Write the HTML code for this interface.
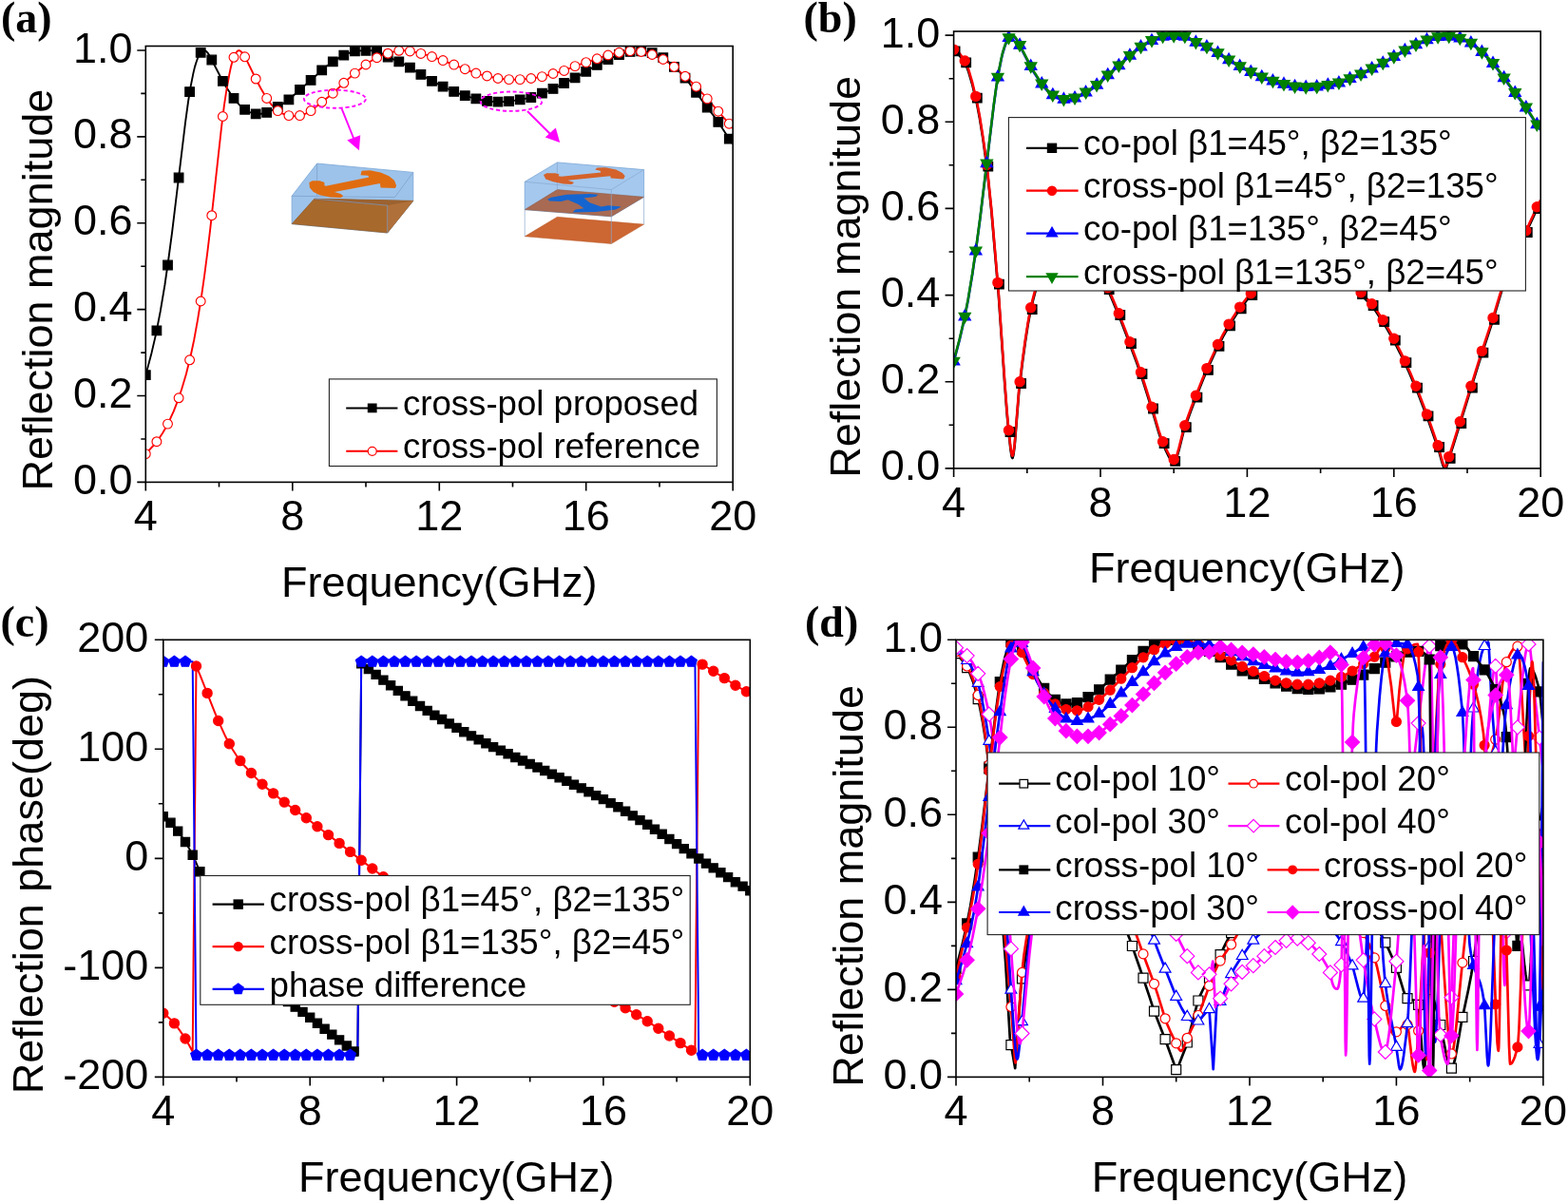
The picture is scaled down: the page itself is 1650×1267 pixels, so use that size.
<!DOCTYPE html><html><head><meta charset="utf-8"><style>html,body{margin:0;padding:0;background:#fff}svg{display:block}</style></head><body><svg width="1650" height="1267" viewBox="0 0 1650 1267">
<rect width="100%" height="100%" fill="#fff"/>
<defs>
<clipPath id="ca"><rect x="153.3" y="48.5" width="617.9" height="458.9"/></clipPath>
<clipPath id="cb"><rect x="1003.6" y="33.0" width="617.6" height="459.9"/></clipPath>
<clipPath id="cc"><rect x="171.8" y="673.3" width="617.5" height="460.1"/></clipPath>
<clipPath id="cd"><rect x="1006.0" y="673.3" width="617.9" height="460.1"/></clipPath>
</defs>
<g clip-path="url(#ca)">
<path d="M153.3 394.7 159.5 371.4 164.1 351.6 168.7 327.9 173.4 300.0 177.2 273.5 181.1 244.3 195.0 129.1 198.1 106.5 200.4 92.1 203.5 76.6 205.0 70.4 206.6 65.2 208.1 61.0 209.7 57.7 210.5 56.4 212.0 54.4 213.5 53.2 215.1 53.0 215.9 53.2 217.4 54.3 219.0 56.2 221.3 60.1 232.1 81.0 237.5 90.7 243.7 100.3 246.8 104.4 249.8 108.2 252.9 111.4 255.3 113.5 257.6 115.3 260.7 117.1 263.0 118.2 266.1 119.2 269.2 119.8 272.2 120.0 276.9 119.5 279.2 118.9 282.3 117.8 288.5 114.8 297.7 109.2 301.6 106.6 305.5 103.5 316.3 93.7 327.1 84.4 338.7 73.9 343.3 70.0 347.9 66.4 354.9 61.9 362.6 57.8 368.8 55.2 371.9 54.2 374.2 53.8 378.1 53.4 391.2 53.1 394.3 53.4 397.4 54.2 400.5 55.6 409.0 60.4 419.0 64.5 423.6 66.7 429.8 70.2 446.8 80.8 455.3 85.7 466.9 91.5 479.2 97.0 485.4 99.4 490.8 101.2 497.8 103.1 507.8 105.6 511.7 106.3 515.5 106.7 526.4 107.1 531.8 107.0 536.4 106.6 552.6 103.9 558.8 102.5 565.7 100.1 578.1 95.1 584.3 92.3 607.5 80.6 626.8 69.3 633.7 65.6 645.3 60.1 653.8 56.7 660.8 54.8 666.9 53.9 673.9 53.9 681.6 54.7 686.2 55.7 690.1 56.9 694.0 58.6 697.8 60.7 701.7 63.5 706.3 67.4 713.3 73.9 717.9 78.6 721.8 83.0 725.6 87.9 741.1 108.9 752.7 124.1 757.3 130.7 766.6 145.0 771.2 151.6" fill="none" stroke="#000" stroke-width="1.9" stroke-linejoin="round"/>
<path d="M153.3 477.6 161.8 468.5 164.9 464.7 168.0 460.4 171.1 455.7 174.2 450.4 179.6 439.7 182.7 432.8 185.7 425.1 191.1 409.7 195.8 394.1 200.4 375.5 204.3 357.2 208.1 336.1 212.0 311.9 215.1 290.1 218.2 266.2 221.3 240.4 232.9 135.1 235.9 110.8 238.3 95.2 241.4 77.9 242.9 70.8 244.4 65.0 246.0 60.3 247.5 56.8 249.1 54.5 250.6 53.3 251.4 53.2 252.2 53.3 253.7 54.3 255.3 56.1 256.8 58.5 260.7 65.6 269.9 84.5 274.6 93.3 277.7 98.6 280.7 103.4 283.8 107.8 286.1 110.6 289.2 113.9 291.6 116.0 293.9 117.7 297.0 119.4 300.1 120.7 303.1 121.5 307.0 122.0 310.1 122.2 314.7 121.8 319.4 120.6 324.0 118.5 327.9 116.1 331.7 113.1 339.4 106.7 350.3 98.2 364.9 84.4 374.2 76.4 382.7 69.7 390.4 64.3 395.8 61.1 402.0 58.3 411.3 55.2 417.5 53.7 422.9 53.1 425.9 53.2 429.8 53.7 438.3 55.3 449.9 58.2 457.6 60.6 465.3 63.3 497.8 76.0 501.6 77.3 506.3 78.6 520.2 81.8 525.6 82.8 532.5 83.4 541.8 83.7 549.5 83.5 558.0 82.6 566.5 81.4 573.5 79.8 592.0 74.9 609.0 68.2 620.6 64.5 636.8 58.9 646.8 56.2 655.3 54.5 661.5 53.7 666.9 53.5 673.1 54.1 677.7 55.0 683.1 56.5 689.3 58.7 694.7 61.0 698.6 63.0 703.2 65.8 707.1 68.5 711.7 72.1 725.6 84.5 734.9 93.6 741.8 101.2 771.2 134.8" fill="none" stroke="#f00" stroke-width="1.9" stroke-linejoin="round"/>
<path d="M148.5 389.9h9.6v9.6h-9.6zM160.1 343.1h9.6v9.6h-9.6zM171.7 274.2h9.6v9.6h-9.6zM183.3 182.2h9.6v9.6h-9.6zM194.8 91.8h9.6v9.6h-9.6zM206.4 50.5h9.6v9.6h-9.6zM218.0 58.2h9.6v9.6h-9.6zM229.6 80.5h9.6v9.6h-9.6zM241.2 98.6h9.6v9.6h-9.6zM252.8 110.5h9.6v9.6h-9.6zM264.4 115.0h9.6v9.6h-9.6zM275.9 113.6h9.6v9.6h-9.6zM287.5 107.7h9.6v9.6h-9.6zM299.1 100.0h9.6v9.6h-9.6zM310.7 89.6h9.6v9.6h-9.6zM322.3 79.6h9.6v9.6h-9.6zM333.9 69.1h9.6v9.6h-9.6zM345.5 60.0h9.6v9.6h-9.6zM357.0 53.4h9.6v9.6h-9.6zM368.6 49.1h9.6v9.6h-9.6zM380.2 48.5h9.6v9.6h-9.6zM391.8 49.1h9.6v9.6h-9.6zM403.4 55.2h9.6v9.6h-9.6zM415.0 60.0h9.6v9.6h-9.6zM426.6 66.4h9.6v9.6h-9.6zM438.1 73.6h9.6v9.6h-9.6zM449.7 80.5h9.6v9.6h-9.6zM461.3 86.4h9.6v9.6h-9.6zM472.9 91.6h9.6v9.6h-9.6zM484.5 95.9h9.6v9.6h-9.6zM496.1 99.1h9.6v9.6h-9.6zM507.7 101.6h9.6v9.6h-9.6zM519.2 102.3h9.6v9.6h-9.6zM530.8 101.9h9.6v9.6h-9.6zM542.4 100.0h9.6v9.6h-9.6zM554.0 97.7h9.6v9.6h-9.6zM565.6 93.4h9.6v9.6h-9.6zM577.2 88.6h9.6v9.6h-9.6zM588.8 82.7h9.6v9.6h-9.6zM600.3 77.0h9.6v9.6h-9.6zM611.9 70.5h9.6v9.6h-9.6zM623.5 63.6h9.6v9.6h-9.6zM635.1 57.7h9.6v9.6h-9.6zM646.7 52.7h9.6v9.6h-9.6zM658.3 49.6h9.6v9.6h-9.6zM669.9 49.1h9.6v9.6h-9.6zM681.4 50.9h9.6v9.6h-9.6zM693.0 55.9h9.6v9.6h-9.6zM704.6 65.5h9.6v9.6h-9.6zM716.2 77.3h9.6v9.6h-9.6zM727.8 92.5h9.6v9.6h-9.6zM739.4 108.2h9.6v9.6h-9.6zM751.0 123.6h9.6v9.6h-9.6zM762.5 141.4h9.6v9.6h-9.6z" fill="#000" stroke="#000" stroke-width="1.2"/>
<path d="M148.4 477.6a4.90 4.90 0 1 0 9.8 0a4.90 4.90 0 1 0 -9.8 0zM160.0 464.7a4.90 4.90 0 1 0 9.8 0a4.90 4.90 0 1 0 -9.8 0zM171.6 446.1a4.90 4.90 0 1 0 9.8 0a4.90 4.90 0 1 0 -9.8 0zM183.2 418.8a4.90 4.90 0 1 0 9.8 0a4.90 4.90 0 1 0 -9.8 0zM194.7 378.8a4.90 4.90 0 1 0 9.8 0a4.90 4.90 0 1 0 -9.8 0zM206.3 317.0a4.90 4.90 0 1 0 9.8 0a4.90 4.90 0 1 0 -9.8 0zM217.9 226.7a4.90 4.90 0 1 0 9.8 0a4.90 4.90 0 1 0 -9.8 0zM229.5 122.5a4.90 4.90 0 1 0 9.8 0a4.90 4.90 0 1 0 -9.8 0zM241.1 60.3a4.90 4.90 0 1 0 9.8 0a4.90 4.90 0 1 0 -9.8 0zM252.7 59.8a4.90 4.90 0 1 0 9.8 0a4.90 4.90 0 1 0 -9.8 0zM264.3 83.0a4.90 4.90 0 1 0 9.8 0a4.90 4.90 0 1 0 -9.8 0zM275.8 103.4a4.90 4.90 0 1 0 9.8 0a4.90 4.90 0 1 0 -9.8 0zM287.4 116.6a4.90 4.90 0 1 0 9.8 0a4.90 4.90 0 1 0 -9.8 0zM299.0 121.6a4.90 4.90 0 1 0 9.8 0a4.90 4.90 0 1 0 -9.8 0zM310.6 121.6a4.90 4.90 0 1 0 9.8 0a4.90 4.90 0 1 0 -9.8 0zM322.2 116.6a4.90 4.90 0 1 0 9.8 0a4.90 4.90 0 1 0 -9.8 0zM333.8 107.3a4.90 4.90 0 1 0 9.8 0a4.90 4.90 0 1 0 -9.8 0zM345.4 98.2a4.90 4.90 0 1 0 9.8 0a4.90 4.90 0 1 0 -9.8 0zM356.9 87.3a4.90 4.90 0 1 0 9.8 0a4.90 4.90 0 1 0 -9.8 0zM368.5 77.1a4.90 4.90 0 1 0 9.8 0a4.90 4.90 0 1 0 -9.8 0zM380.1 68.0a4.90 4.90 0 1 0 9.8 0a4.90 4.90 0 1 0 -9.8 0zM391.7 60.7a4.90 4.90 0 1 0 9.8 0a4.90 4.90 0 1 0 -9.8 0zM403.3 56.2a4.90 4.90 0 1 0 9.8 0a4.90 4.90 0 1 0 -9.8 0zM414.9 53.3a4.90 4.90 0 1 0 9.8 0a4.90 4.90 0 1 0 -9.8 0zM426.5 53.9a4.90 4.90 0 1 0 9.8 0a4.90 4.90 0 1 0 -9.8 0zM438.0 56.4a4.90 4.90 0 1 0 9.8 0a4.90 4.90 0 1 0 -9.8 0zM449.6 59.6a4.90 4.90 0 1 0 9.8 0a4.90 4.90 0 1 0 -9.8 0zM461.2 63.6a4.90 4.90 0 1 0 9.8 0a4.90 4.90 0 1 0 -9.8 0zM472.8 68.1a4.90 4.90 0 1 0 9.8 0a4.90 4.90 0 1 0 -9.8 0zM484.4 72.7a4.90 4.90 0 1 0 9.8 0a4.90 4.90 0 1 0 -9.8 0zM496.0 77.1a4.90 4.90 0 1 0 9.8 0a4.90 4.90 0 1 0 -9.8 0zM507.6 80.0a4.90 4.90 0 1 0 9.8 0a4.90 4.90 0 1 0 -9.8 0zM519.1 82.5a4.90 4.90 0 1 0 9.8 0a4.90 4.90 0 1 0 -9.8 0zM530.7 83.6a4.90 4.90 0 1 0 9.8 0a4.90 4.90 0 1 0 -9.8 0zM542.3 83.6a4.90 4.90 0 1 0 9.8 0a4.90 4.90 0 1 0 -9.8 0zM553.9 82.5a4.90 4.90 0 1 0 9.8 0a4.90 4.90 0 1 0 -9.8 0zM565.5 80.6a4.90 4.90 0 1 0 9.8 0a4.90 4.90 0 1 0 -9.8 0zM577.1 77.5a4.90 4.90 0 1 0 9.8 0a4.90 4.90 0 1 0 -9.8 0zM588.7 74.4a4.90 4.90 0 1 0 9.8 0a4.90 4.90 0 1 0 -9.8 0zM600.2 69.6a4.90 4.90 0 1 0 9.8 0a4.90 4.90 0 1 0 -9.8 0zM611.8 65.7a4.90 4.90 0 1 0 9.8 0a4.90 4.90 0 1 0 -9.8 0zM623.4 61.8a4.90 4.90 0 1 0 9.8 0a4.90 4.90 0 1 0 -9.8 0zM635.0 58.0a4.90 4.90 0 1 0 9.8 0a4.90 4.90 0 1 0 -9.8 0zM646.6 55.3a4.90 4.90 0 1 0 9.8 0a4.90 4.90 0 1 0 -9.8 0zM658.2 53.6a4.90 4.90 0 1 0 9.8 0a4.90 4.90 0 1 0 -9.8 0zM669.8 54.4a4.90 4.90 0 1 0 9.8 0a4.90 4.90 0 1 0 -9.8 0zM681.3 57.5a4.90 4.90 0 1 0 9.8 0a4.90 4.90 0 1 0 -9.8 0zM692.9 62.5a4.90 4.90 0 1 0 9.8 0a4.90 4.90 0 1 0 -9.8 0zM704.5 70.3a4.90 4.90 0 1 0 9.8 0a4.90 4.90 0 1 0 -9.8 0zM716.1 80.3a4.90 4.90 0 1 0 9.8 0a4.90 4.90 0 1 0 -9.8 0zM727.7 91.2a4.90 4.90 0 1 0 9.8 0a4.90 4.90 0 1 0 -9.8 0zM739.3 103.9a4.90 4.90 0 1 0 9.8 0a4.90 4.90 0 1 0 -9.8 0zM750.9 117.2a4.90 4.90 0 1 0 9.8 0a4.90 4.90 0 1 0 -9.8 0zM762.4 130.2a4.90 4.90 0 1 0 9.8 0a4.90 4.90 0 1 0 -9.8 0z" fill="#fff" stroke="#f00" stroke-width="1.15"/>
</g>
<ellipse cx="352.4" cy="104.2" rx="32.5" ry="9.5" fill="none" stroke="#f0f" stroke-width="1.9" stroke-dasharray="4 2.8"/>
<ellipse cx="538" cy="106.7" rx="32.4" ry="10.2" fill="none" stroke="#f0f" stroke-width="1.9" stroke-dasharray="4 2.8"/>
<path d="M359.3 113.7L373.5 149" stroke="#f0f" stroke-width="1.9"/>
<polygon points="377.9,158.3 365.3,147.5 379.2,142.2" fill="#f0f"/>
<path d="M555 117L580 142" stroke="#f0f" stroke-width="1.9"/>
<polygon points="589.2,149.9 573.7,144.4 584.8,134.4" fill="#f0f"/>
<polygon points="307.1,206.3 333.6,172.0 434.8,181.4 434.8,211.3 407.7,245.0 307.1,235.6" fill="#9dc3ea" stroke="#7aa6d6" stroke-width="0.8" fill-opacity="1"/>
<polygon points="307.1,235.6 330.9,209.1 434.8,211.3 407.7,245.0" fill="#a8692c" stroke="#8a5522" stroke-width="0.6" fill-opacity="1"/>
<polygon points="330.9,209.1 434.8,211.3 407.7,216.2 330.9,210.7" fill="#9c6230" stroke="none" stroke-width="0.6" fill-opacity="1"/>
<polygon points="407.7,216.2 434.8,211.3 407.7,245.0" fill="#b0703a" stroke="none" stroke-width="0.6" fill-opacity="1"/>
<line x1="333.6" y1="172.0" x2="333.6" y2="206.3" stroke="#7a9cc8" stroke-width="0.7"/>
<line x1="307.1" y1="206.3" x2="415.4" y2="207.6" stroke="#7a9cc8" stroke-width="0.7"/>
<line x1="415.4" y1="207.6" x2="434.8" y2="181.4" stroke="#7a9cc8" stroke-width="0.7"/>
<line x1="407.7" y1="216.2" x2="407.7" y2="245.0" stroke="#7a9cc8" stroke-width="0.7"/>
<line x1="330.9" y1="209.1" x2="407.7" y2="216.2" stroke="#7a9cc8" stroke-width="0.7"/>
<polygon points="325.4,191.9 328.7,190.3 336.4,190.3 341.4,191.9 341.4,195.2 343.0,195.8 388.3,186.4 387.2,184.8 379.5,184.2 380.6,179.8 389.4,179.2 400.5,181.4 409.3,185.3 414.9,189.7 417.1,195.2 416.0,198.0 400.5,197.5 399.9,193.0 351.9,201.9 358.5,204.1 361.3,206.3 358.5,208.0 347.5,207.4 336.4,205.2 329.8,201.9 325.9,197.5" fill="#e06c10" stroke="none" stroke-width="0.6" fill-opacity="1"/>
<polygon points="552.2,191.3 586.4,170.9 677.6,178.6 677.6,207.3 643.3,227.8 552.2,220.6" fill="#a4c8ee" stroke="#7aa6d6" stroke-width="0.8" fill-opacity="1"/>
<polygon points="552.2,220.6 586.4,199.6 677.6,207.3 643.3,227.8" fill="#a86a52" stroke="#8a5a48" stroke-width="0.5" fill-opacity="1"/>
<polygon points="576.1,209.8 580.0,207.7 596.4,204.7 620.6,204.1 629.7,204.7 626.7,207.1 614.5,208.6 620.6,213.2 632.7,217.4 640.0,216.2 653.9,217.4 647.9,220.5 626.7,222.9 602.4,223.5 605.5,220.5 614.5,219.2 608.5,215.0 597.6,210.2 590.3,212.0 578.2,211.4" fill="#1565d0" stroke="none" stroke-width="0.6" fill-opacity="1"/>
<polygon points="552.2,248.8 586.4,228.3 677.6,236.1 643.3,256.5" fill="#cc6632" stroke="#b85a2a" stroke-width="0.5" fill-opacity="1"/>
<line x1="552.2" y1="191.3" x2="643.3" y2="199.6" stroke="#8aa8d0" stroke-width="0.7"/>
<line x1="643.3" y1="199.6" x2="677.6" y2="178.6" stroke="#8aa8d0" stroke-width="0.7"/>
<line x1="643.3" y1="199.6" x2="643.3" y2="227.8" stroke="#8aa8d0" stroke-width="0.7"/>
<line x1="586.4" y1="170.9" x2="586.4" y2="199.6" stroke="#8aa8d0" stroke-width="0.7"/>
<line x1="552.2" y1="220.6" x2="552.2" y2="248.8" stroke="#8aa8d0" stroke-width="0.7"/>
<line x1="643.3" y1="227.8" x2="643.3" y2="256.5" stroke="#8aa8d0" stroke-width="0.7"/>
<line x1="677.6" y1="207.3" x2="677.6" y2="236.1" stroke="#8aa8d0" stroke-width="0.7"/>
<polygon points="572.0,184.1 575.4,182.2 584.2,182.2 588.6,183.6 587.5,185.2 590.8,185.8 632.3,181.4 631.7,179.7 626.2,178.6 628.4,176.4 637.2,176.2 648.3,178.6 654.9,181.9 657.7,185.2 656.0,188.6 642.8,187.5 642.2,185.2 597.5,189.7 604.1,191.9 601.9,194.1 593.0,193.5 582.0,191.3 574.3,188.6" fill="#d4622a" stroke="none" stroke-width="0.6" fill-opacity="1"/>
<rect x="346.4" y="398.9" width="408" height="91.6" fill="#fff" stroke="#222" stroke-width="1.1"/>
<path d="M364.2 429.4H418.4" stroke="#000" stroke-width="2"/>
<rect x="387.4" y="425.1" width="8.6" height="8.6" fill="#000" stroke="#000" stroke-width="1.2"/>
<path d="M364.2 474.8H418.4" stroke="#f00" stroke-width="2"/>
<circle cx="391.7" cy="474.8" r="4.5" fill="#fff" stroke="#f00" stroke-width="1.2"/>
<g font-family="'Liberation Sans', Arial, sans-serif" font-size="36.6"><text x="424" y="437.3">cross-pol proposed</text><text x="424" y="481.8">cross-pol reference</text></g>
<rect x="153.3" y="48.5" width="617.9" height="458.9" fill="none" stroke="#000" stroke-width="1.6"/>
<path d="M153.3 507.4H144.3M153.3 416.5H144.3M153.3 325.6H144.3M153.3 234.8H144.3M153.3 143.9H144.3M153.3 53.0H144.3M153.3 462.0H148.3M153.3 371.1H148.3M153.3 280.2H148.3M153.3 189.3H148.3M153.3 98.4H148.3M153.3 507.4V516.4M307.8 507.4V516.4M462.3 507.4V516.4M616.7 507.4V516.4M771.2 507.4V516.4M230.5 507.4V512.4M385.0 507.4V512.4M539.5 507.4V512.4M694.0 507.4V512.4" stroke="#000" stroke-width="1.6" fill="none"/>
<g font-family="'Liberation Sans', Arial, sans-serif" font-size="45" fill="#000">
<text x="139.5" y="519.9" text-anchor="end">0.0</text>
<text x="139.5" y="429.0" text-anchor="end">0.2</text>
<text x="139.5" y="338.1" text-anchor="end">0.4</text>
<text x="139.5" y="247.3" text-anchor="end">0.6</text>
<text x="139.5" y="156.4" text-anchor="end">0.8</text>
<text x="139.5" y="65.5" text-anchor="end">1.0</text>
<text x="153.3" y="558.1" text-anchor="middle">4</text>
<text x="307.8" y="558.1" text-anchor="middle">8</text>
<text x="462.3" y="558.1" text-anchor="middle">12</text>
<text x="616.7" y="558.1" text-anchor="middle">16</text>
<text x="771.2" y="558.1" text-anchor="middle">20</text>
<text x="462.2" y="627.7" text-anchor="middle">Frequency(GHz)</text>
<text x="54.8" y="516.5" transform="rotate(-90 54.8 516.5)">Reflection magnitude</text>
</g>
<text x="1.0" y="33.5" font-family="'Liberation Serif', 'Times New Roman', serif" font-weight="bold" font-size="46">(a)</text>
<g clip-path="url(#cb)">
<path d="M1003.6 54.4 1005.1 54.7 1007.1 55.8 1009.0 57.7 1011.3 60.5 1016.0 67.6 1017.5 70.9 1019.4 76.1 1023.3 89.5 1027.9 108.8 1031.0 125.1 1034.5 147.1 1037.2 166.7 1039.5 185.3 1043.4 223.3 1050.7 309.2 1057.3 404.6 1059.6 435.1 1061.1 451.6 1063.4 472.7 1064.6 480.2 1065.0 481.5 1065.4 482.0 1065.7 481.5 1066.5 478.4 1067.7 469.1 1072.3 411.3 1075.8 382.5 1078.9 359.8 1081.6 342.3 1083.9 329.7 1086.6 317.7 1090.1 304.5 1093.9 292.4 1098.6 281.0 1102.8 272.2 1104.7 268.9 1106.7 266.3 1112.1 261.0 1114.4 259.1 1116.3 258.0 1118.2 257.4 1119.8 257.3 1124.8 257.8 1131.4 259.7 1133.7 260.9 1136.8 263.5 1146.0 273.3 1151.8 280.4 1154.5 284.3 1156.8 288.0 1162.6 298.8 1169.6 313.5 1178.1 333.9 1185.0 351.8 1196.2 381.9 1200.5 394.0 1204.3 405.8 1212.8 432.9 1219.4 455.4 1222.1 463.4 1227.1 474.7 1229.8 480.2 1232.1 483.8 1233.3 485.0 1234.0 485.5 1235.2 485.8 1235.6 485.7 1236.4 485.1 1237.1 483.9 1238.3 481.3 1240.6 473.6 1245.2 455.1 1247.6 447.8 1253.0 432.9 1259.9 414.6 1266.1 399.1 1271.1 387.2 1279.2 369.5 1286.9 354.4 1294.6 340.8 1302.8 328.1 1310.9 317.2 1314.3 313.1 1317.4 309.9 1322.0 305.6 1330.2 298.9 1335.2 294.9 1339.0 292.1 1343.7 289.3 1347.9 287.0 1355.6 283.3 1359.5 281.8 1362.2 281.0 1368.8 280.0 1372.6 279.6 1376.5 279.6 1386.1 280.3 1389.6 281.0 1405.8 286.8 1409.3 288.4 1412.4 290.3 1417.4 294.2 1422.4 298.8 1432.1 310.1 1442.5 320.6 1445.2 323.9 1448.3 328.3 1459.5 345.9 1466.8 358.6 1473.7 372.3 1483.0 392.3 1492.7 415.2 1503.1 442.5 1513.5 472.2 1517.4 486.3 1518.5 489.9 1519.3 491.7 1520.1 492.9 1521.2 492.9 1521.6 492.6 1522.4 490.7 1524.3 484.1 1528.9 469.9 1556.0 382.6 1571.0 336.8 1579.9 307.2 1584.1 294.5 1589.5 280.0 1595.3 266.3 1605.8 244.9 1616.2 222.5 1621.2 212.6" fill="none" stroke="#000" stroke-width="2.6" stroke-linejoin="round"/>
<path d="M1003.6 52.1 1005.1 52.4 1007.1 53.6 1009.0 55.4 1011.3 58.3 1016.0 65.3 1017.5 68.6 1019.4 73.8 1023.3 87.2 1027.9 106.6 1031.0 122.8 1034.5 144.9 1037.2 164.4 1039.5 183.0 1043.4 221.0 1050.7 306.9 1057.3 402.3 1059.6 432.8 1061.1 449.3 1063.4 470.4 1064.6 478.0 1065.0 479.2 1065.4 479.7 1065.7 479.3 1066.5 476.2 1067.7 466.8 1072.3 409.0 1075.8 380.2 1078.9 357.5 1081.6 340.1 1083.9 327.5 1086.6 315.4 1090.1 302.2 1093.9 290.1 1098.6 278.7 1102.8 269.9 1104.7 266.7 1106.7 264.0 1112.1 258.7 1114.4 256.9 1116.3 255.7 1118.2 255.1 1119.8 255.0 1124.8 255.6 1131.4 257.4 1133.7 258.7 1136.8 261.3 1146.0 271.0 1151.8 278.1 1154.5 282.0 1156.8 285.7 1162.6 296.5 1169.6 311.2 1178.1 331.6 1185.0 349.5 1196.2 379.6 1200.5 391.7 1204.3 403.5 1212.8 430.7 1219.4 453.1 1222.1 461.1 1226.7 471.6 1229.4 477.2 1231.7 481.0 1233.7 483.0 1234.8 483.5 1235.6 483.4 1236.0 483.2 1237.1 481.6 1238.3 479.0 1240.6 471.3 1245.2 452.9 1247.9 444.5 1253.7 428.5 1260.7 410.4 1266.5 395.9 1271.9 383.2 1279.6 366.5 1287.3 351.4 1295.4 337.3 1303.1 325.3 1310.9 315.0 1314.3 310.8 1317.4 307.6 1322.0 303.3 1330.2 296.6 1335.2 292.6 1339.0 289.9 1343.7 287.0 1347.9 284.7 1355.6 281.1 1359.5 279.5 1362.2 278.7 1368.8 277.7 1372.6 277.3 1376.5 277.3 1386.1 278.0 1389.6 278.7 1405.8 284.6 1409.3 286.2 1412.4 288.0 1417.4 291.9 1422.4 296.5 1432.1 307.8 1442.5 318.3 1445.2 321.6 1448.3 326.0 1459.5 343.6 1467.2 357.0 1474.5 371.6 1483.8 391.8 1492.3 412.0 1500.8 433.9 1505.8 447.7 1513.5 469.9 1517.4 484.0 1518.5 487.6 1519.7 490.1 1520.5 491.0 1520.8 491.1 1521.2 490.9 1521.6 490.3 1522.4 488.5 1524.3 481.8 1528.9 467.6 1556.0 380.3 1560.6 365.8 1570.6 335.7 1579.9 304.9 1584.5 291.1 1589.9 276.8 1595.3 264.0 1605.8 242.7 1616.2 220.2 1621.2 210.3" fill="none" stroke="#f00" stroke-width="2.6" stroke-linejoin="round"/>
<path d="M1003.6 380.8 1009.8 357.4 1014.4 337.5 1018.7 315.9 1023.3 288.2 1027.1 262.0 1031.4 229.9 1045.7 111.4 1048.4 91.7 1050.7 77.2 1053.8 61.7 1055.3 55.5 1057.3 49.1 1058.8 45.1 1060.3 42.0 1062.3 39.4 1063.8 38.2 1065.4 38.0 1066.5 38.4 1068.1 39.8 1069.6 41.8 1072.3 46.6 1083.1 67.5 1087.7 75.8 1093.9 85.4 1097.0 89.6 1099.7 92.9 1102.4 95.8 1105.1 98.3 1107.8 100.5 1110.5 102.1 1113.2 103.4 1116.3 104.4 1119.0 105.0 1122.1 105.2 1124.4 105.1 1127.1 104.7 1129.8 104.0 1132.5 103.1 1138.3 100.2 1148.0 94.4 1152.2 91.5 1155.7 88.7 1166.5 78.8 1177.7 69.1 1189.3 58.6 1193.9 54.7 1198.1 51.5 1205.1 46.9 1212.8 42.8 1219.0 40.2 1221.7 39.4 1224.4 38.8 1228.3 38.4 1241.0 38.1 1244.5 38.4 1247.2 39.0 1250.6 40.6 1259.5 45.6 1269.6 49.7 1273.8 51.7 1280.0 55.3 1297.0 65.9 1305.1 70.6 1317.0 76.7 1329.0 82.0 1335.2 84.4 1341.0 86.3 1357.6 90.7 1361.8 91.5 1365.7 91.9 1376.5 92.3 1381.9 92.2 1386.5 91.8 1402.7 89.1 1408.9 87.7 1415.5 85.4 1428.2 80.3 1434.0 77.7 1457.5 65.7 1476.5 54.6 1483.4 50.8 1495.0 45.3 1503.9 41.7 1510.8 39.8 1517.0 38.9 1524.3 38.9 1531.6 39.7 1536.3 40.7 1540.5 42.1 1544.4 43.8 1548.2 46.0 1552.1 48.9 1556.4 52.5 1563.3 59.0 1568.3 64.1 1571.8 68.1 1575.7 73.0 1590.7 93.6 1603.1 109.8 1607.3 116.0 1616.6 130.3 1621.2 136.9" fill="none" stroke="#00f" stroke-width="2.6" stroke-linejoin="round"/>
<path d="M1003.6 379.9 1009.8 356.5 1014.4 336.6 1018.7 315.0 1023.3 287.3 1027.1 261.1 1031.4 229.0 1045.7 110.5 1048.4 90.8 1050.7 76.3 1053.8 60.8 1055.3 54.6 1057.3 48.2 1058.8 44.2 1060.3 41.1 1062.3 38.5 1063.8 37.3 1065.4 37.1 1066.5 37.5 1068.1 38.8 1069.6 40.9 1072.3 45.6 1083.1 66.6 1087.7 74.9 1093.9 84.5 1097.0 88.7 1099.7 92.0 1102.4 94.9 1105.1 97.4 1107.8 99.5 1110.5 101.2 1113.2 102.5 1116.3 103.5 1119.0 104.1 1122.1 104.3 1124.4 104.2 1127.1 103.8 1129.8 103.1 1132.5 102.1 1138.3 99.3 1148.0 93.5 1152.2 90.6 1155.7 87.8 1166.5 77.9 1177.7 68.2 1189.3 57.7 1193.9 53.8 1198.1 50.6 1205.1 46.0 1212.8 41.9 1219.0 39.3 1221.7 38.4 1224.4 37.9 1228.3 37.5 1241.0 37.2 1244.5 37.5 1247.2 38.1 1250.6 39.7 1259.5 44.7 1269.6 48.8 1273.8 50.8 1280.0 54.4 1297.0 65.0 1305.1 69.7 1317.0 75.8 1329.0 81.1 1335.2 83.5 1341.0 85.4 1357.6 89.7 1361.8 90.5 1365.7 91.0 1376.5 91.4 1381.9 91.3 1386.5 90.9 1402.7 88.2 1408.9 86.8 1415.5 84.5 1428.2 79.4 1434.0 76.7 1457.5 64.8 1476.5 53.7 1483.4 49.9 1495.0 44.4 1503.9 40.8 1510.8 38.9 1517.0 38.0 1524.3 38.0 1531.6 38.8 1536.3 39.8 1540.5 41.2 1544.4 42.9 1548.2 45.1 1552.1 47.9 1556.4 51.6 1563.3 58.1 1568.3 63.2 1571.8 67.2 1575.7 72.1 1590.7 92.6 1603.1 108.9 1607.3 115.1 1616.6 129.4 1621.2 136.0" fill="none" stroke="#008000" stroke-width="2.6" stroke-linejoin="round"/>
<path d="M1000.3 49.1h9.6v9.6h-9.6zM1011.9 61.0h9.6v9.6h-9.6zM1023.5 98.4h9.6v9.6h-9.6zM1035.0 170.4h9.6v9.6h-9.6zM1046.6 294.4h9.6v9.6h-9.6zM1058.2 449.8h9.6v9.6h-9.6zM1069.8 398.7h9.6v9.6h-9.6zM1081.4 320.8h9.6v9.6h-9.6zM1092.9 281.1h9.6v9.6h-9.6zM1104.5 259.7h9.6v9.6h-9.6zM1116.1 252.0h9.6v9.6h-9.6zM1127.7 254.3h9.6v9.6h-9.6zM1139.3 264.3h9.6v9.6h-9.6zM1150.8 278.4h9.6v9.6h-9.6zM1162.4 299.8h9.6v9.6h-9.6zM1174.0 326.7h9.6v9.6h-9.6zM1185.6 356.8h9.6v9.6h-9.6zM1197.2 388.7h9.6v9.6h-9.6zM1208.7 425.2h9.6v9.6h-9.6zM1220.3 461.8h9.6v9.6h-9.6zM1231.9 480.5h9.6v9.6h-9.6zM1243.5 444.8h9.6v9.6h-9.6zM1255.1 413.3h9.6v9.6h-9.6zM1266.6 384.6h9.6v9.6h-9.6zM1278.2 359.5h9.6v9.6h-9.6zM1289.8 338.1h9.6v9.6h-9.6zM1301.4 320.1h9.6v9.6h-9.6zM1313.0 305.8h9.6v9.6h-9.6zM1324.5 295.5h9.6v9.6h-9.6zM1336.1 286.6h9.6v9.6h-9.6zM1347.7 280.2h9.6v9.6h-9.6zM1359.3 275.7h9.6v9.6h-9.6zM1370.9 274.3h9.6v9.6h-9.6zM1382.4 274.9h9.6v9.6h-9.6zM1394.0 278.5h9.6v9.6h-9.6zM1405.6 283.0h9.6v9.6h-9.6zM1417.2 291.6h9.6v9.6h-9.6zM1428.8 304.8h9.6v9.6h-9.6zM1440.3 316.7h9.6v9.6h-9.6zM1451.9 333.8h9.6v9.6h-9.6zM1463.5 353.3h9.6v9.6h-9.6zM1475.1 376.9h9.6v9.6h-9.6zM1486.7 403.3h9.6v9.6h-9.6zM1498.2 433.0h9.6v9.6h-9.6zM1509.8 465.7h9.6v9.6h-9.6zM1521.4 477.6h9.6v9.6h-9.6zM1533.0 440.7h9.6v9.6h-9.6zM1544.6 403.3h9.6v9.6h-9.6zM1556.1 366.4h9.6v9.6h-9.6zM1567.7 331.5h9.6v9.6h-9.6zM1579.3 293.6h9.6v9.6h-9.6zM1590.9 263.6h9.6v9.6h-9.6zM1602.5 239.7h9.6v9.6h-9.6zM1614.0 214.8h9.6v9.6h-9.6z" fill="#000" stroke="#000" stroke-width="1.2"/>
<path d="M998.5 52.1a5.10 5.10 0 1 0 10.2 0a5.10 5.10 0 1 0 -10.2 0zM1010.1 64.0a5.10 5.10 0 1 0 10.2 0a5.10 5.10 0 1 0 -10.2 0zM1021.7 101.4a5.10 5.10 0 1 0 10.2 0a5.10 5.10 0 1 0 -10.2 0zM1033.2 173.4a5.10 5.10 0 1 0 10.2 0a5.10 5.10 0 1 0 -10.2 0zM1044.8 297.4a5.10 5.10 0 1 0 10.2 0a5.10 5.10 0 1 0 -10.2 0zM1056.4 452.8a5.10 5.10 0 1 0 10.2 0a5.10 5.10 0 1 0 -10.2 0zM1068.0 401.7a5.10 5.10 0 1 0 10.2 0a5.10 5.10 0 1 0 -10.2 0zM1079.6 323.8a5.10 5.10 0 1 0 10.2 0a5.10 5.10 0 1 0 -10.2 0zM1091.1 284.1a5.10 5.10 0 1 0 10.2 0a5.10 5.10 0 1 0 -10.2 0zM1102.7 262.7a5.10 5.10 0 1 0 10.2 0a5.10 5.10 0 1 0 -10.2 0zM1114.3 255.0a5.10 5.10 0 1 0 10.2 0a5.10 5.10 0 1 0 -10.2 0zM1125.9 257.3a5.10 5.10 0 1 0 10.2 0a5.10 5.10 0 1 0 -10.2 0zM1137.5 267.3a5.10 5.10 0 1 0 10.2 0a5.10 5.10 0 1 0 -10.2 0zM1149.0 281.4a5.10 5.10 0 1 0 10.2 0a5.10 5.10 0 1 0 -10.2 0zM1160.6 302.8a5.10 5.10 0 1 0 10.2 0a5.10 5.10 0 1 0 -10.2 0zM1172.2 329.7a5.10 5.10 0 1 0 10.2 0a5.10 5.10 0 1 0 -10.2 0zM1183.8 359.8a5.10 5.10 0 1 0 10.2 0a5.10 5.10 0 1 0 -10.2 0zM1195.4 391.7a5.10 5.10 0 1 0 10.2 0a5.10 5.10 0 1 0 -10.2 0zM1206.9 428.2a5.10 5.10 0 1 0 10.2 0a5.10 5.10 0 1 0 -10.2 0zM1218.5 464.8a5.10 5.10 0 1 0 10.2 0a5.10 5.10 0 1 0 -10.2 0zM1230.1 483.5a5.10 5.10 0 1 0 10.2 0a5.10 5.10 0 1 0 -10.2 0zM1241.7 447.8a5.10 5.10 0 1 0 10.2 0a5.10 5.10 0 1 0 -10.2 0zM1253.3 416.3a5.10 5.10 0 1 0 10.2 0a5.10 5.10 0 1 0 -10.2 0zM1264.8 387.6a5.10 5.10 0 1 0 10.2 0a5.10 5.10 0 1 0 -10.2 0zM1276.4 362.5a5.10 5.10 0 1 0 10.2 0a5.10 5.10 0 1 0 -10.2 0zM1288.0 341.1a5.10 5.10 0 1 0 10.2 0a5.10 5.10 0 1 0 -10.2 0zM1299.6 323.1a5.10 5.10 0 1 0 10.2 0a5.10 5.10 0 1 0 -10.2 0zM1311.2 308.8a5.10 5.10 0 1 0 10.2 0a5.10 5.10 0 1 0 -10.2 0zM1322.7 298.5a5.10 5.10 0 1 0 10.2 0a5.10 5.10 0 1 0 -10.2 0zM1334.3 289.6a5.10 5.10 0 1 0 10.2 0a5.10 5.10 0 1 0 -10.2 0zM1345.9 283.2a5.10 5.10 0 1 0 10.2 0a5.10 5.10 0 1 0 -10.2 0zM1357.5 278.7a5.10 5.10 0 1 0 10.2 0a5.10 5.10 0 1 0 -10.2 0zM1369.1 277.3a5.10 5.10 0 1 0 10.2 0a5.10 5.10 0 1 0 -10.2 0zM1380.6 277.9a5.10 5.10 0 1 0 10.2 0a5.10 5.10 0 1 0 -10.2 0zM1392.2 281.5a5.10 5.10 0 1 0 10.2 0a5.10 5.10 0 1 0 -10.2 0zM1403.8 286.0a5.10 5.10 0 1 0 10.2 0a5.10 5.10 0 1 0 -10.2 0zM1415.4 294.6a5.10 5.10 0 1 0 10.2 0a5.10 5.10 0 1 0 -10.2 0zM1427.0 307.8a5.10 5.10 0 1 0 10.2 0a5.10 5.10 0 1 0 -10.2 0zM1438.5 319.7a5.10 5.10 0 1 0 10.2 0a5.10 5.10 0 1 0 -10.2 0zM1450.1 336.8a5.10 5.10 0 1 0 10.2 0a5.10 5.10 0 1 0 -10.2 0zM1461.7 356.3a5.10 5.10 0 1 0 10.2 0a5.10 5.10 0 1 0 -10.2 0zM1473.3 379.9a5.10 5.10 0 1 0 10.2 0a5.10 5.10 0 1 0 -10.2 0zM1484.9 406.3a5.10 5.10 0 1 0 10.2 0a5.10 5.10 0 1 0 -10.2 0zM1496.4 436.0a5.10 5.10 0 1 0 10.2 0a5.10 5.10 0 1 0 -10.2 0zM1508.0 468.7a5.10 5.10 0 1 0 10.2 0a5.10 5.10 0 1 0 -10.2 0zM1519.6 480.6a5.10 5.10 0 1 0 10.2 0a5.10 5.10 0 1 0 -10.2 0zM1531.2 443.7a5.10 5.10 0 1 0 10.2 0a5.10 5.10 0 1 0 -10.2 0zM1542.8 406.3a5.10 5.10 0 1 0 10.2 0a5.10 5.10 0 1 0 -10.2 0zM1554.3 369.4a5.10 5.10 0 1 0 10.2 0a5.10 5.10 0 1 0 -10.2 0zM1565.9 334.5a5.10 5.10 0 1 0 10.2 0a5.10 5.10 0 1 0 -10.2 0zM1577.5 296.6a5.10 5.10 0 1 0 10.2 0a5.10 5.10 0 1 0 -10.2 0zM1589.1 266.6a5.10 5.10 0 1 0 10.2 0a5.10 5.10 0 1 0 -10.2 0zM1600.7 242.7a5.10 5.10 0 1 0 10.2 0a5.10 5.10 0 1 0 -10.2 0zM1612.2 217.8a5.10 5.10 0 1 0 10.2 0a5.10 5.10 0 1 0 -10.2 0z" fill="#f00" stroke="#f00" stroke-width="1.2"/>
<path d="M1003.6 373.2l6.2 10.7h-12.3zM1015.2 326.3l6.2 10.7h-12.3zM1026.8 257.2l6.2 10.7h-12.3zM1038.3 164.9l6.2 10.7h-12.3zM1049.9 74.2l6.2 10.7h-12.3zM1061.5 32.7l6.2 10.7h-12.3zM1073.1 40.5l6.2 10.7h-12.3zM1084.7 62.8l6.2 10.7h-12.3zM1096.2 81.1l6.2 10.7h-12.3zM1107.8 92.9l6.2 10.7h-12.3zM1119.4 97.5l6.2 10.7h-12.3zM1131.0 96.1l6.2 10.7h-12.3zM1142.6 90.2l6.2 10.7h-12.3zM1154.1 82.4l6.2 10.7h-12.3zM1165.7 71.9l6.2 10.7h-12.3zM1177.3 61.9l6.2 10.7h-12.3zM1188.9 51.4l6.2 10.7h-12.3zM1200.5 42.3l6.2 10.7h-12.3zM1212.0 35.7l6.2 10.7h-12.3zM1223.6 31.4l6.2 10.7h-12.3zM1235.2 30.8l6.2 10.7h-12.3zM1246.8 31.4l6.2 10.7h-12.3zM1258.4 37.5l6.2 10.7h-12.3zM1269.9 42.3l6.2 10.7h-12.3zM1281.5 48.7l6.2 10.7h-12.3zM1293.1 56.0l6.2 10.7h-12.3zM1304.7 62.8l6.2 10.7h-12.3zM1316.3 68.8l6.2 10.7h-12.3zM1327.8 74.0l6.2 10.7h-12.3zM1339.4 78.3l6.2 10.7h-12.3zM1351.0 81.5l6.2 10.7h-12.3zM1362.6 84.0l6.2 10.7h-12.3zM1374.2 84.7l6.2 10.7h-12.3zM1385.7 84.3l6.2 10.7h-12.3zM1397.3 82.4l6.2 10.7h-12.3zM1408.9 80.2l6.2 10.7h-12.3zM1420.5 75.8l6.2 10.7h-12.3zM1432.1 71.0l6.2 10.7h-12.3zM1443.6 65.1l6.2 10.7h-12.3zM1455.2 59.4l6.2 10.7h-12.3zM1466.8 52.8l6.2 10.7h-12.3zM1478.4 46.0l6.2 10.7h-12.3zM1490.0 40.0l6.2 10.7h-12.3zM1501.5 35.0l6.2 10.7h-12.3zM1513.1 31.8l6.2 10.7h-12.3zM1524.7 31.4l6.2 10.7h-12.3zM1536.3 33.2l6.2 10.7h-12.3zM1547.9 38.2l6.2 10.7h-12.3zM1559.4 47.8l6.2 10.7h-12.3zM1571.0 59.6l6.2 10.7h-12.3zM1582.6 74.9l6.2 10.7h-12.3zM1594.2 90.6l6.2 10.7h-12.3zM1605.8 106.1l6.2 10.7h-12.3zM1617.3 123.9l6.2 10.7h-12.3z" fill="#00f" stroke="#00f" stroke-width="1.2"/>
<path d="M1003.6 387.0l6.2 -10.7h-12.3zM1015.2 340.0l6.2 -10.7h-12.3zM1026.8 270.9l6.2 -10.7h-12.3zM1038.3 178.7l6.2 -10.7h-12.3zM1049.9 88.0l6.2 -10.7h-12.3zM1061.5 46.5l6.2 -10.7h-12.3zM1073.1 54.3l6.2 -10.7h-12.3zM1084.7 76.6l6.2 -10.7h-12.3zM1096.2 94.8l6.2 -10.7h-12.3zM1107.8 106.7l6.2 -10.7h-12.3zM1119.4 111.2l6.2 -10.7h-12.3zM1131.0 109.9l6.2 -10.7h-12.3zM1142.6 103.9l6.2 -10.7h-12.3zM1154.1 96.2l6.2 -10.7h-12.3zM1165.7 85.7l6.2 -10.7h-12.3zM1177.3 75.7l6.2 -10.7h-12.3zM1188.9 65.2l6.2 -10.7h-12.3zM1200.5 56.1l6.2 -10.7h-12.3zM1212.0 49.4l6.2 -10.7h-12.3zM1223.6 45.1l6.2 -10.7h-12.3zM1235.2 44.5l6.2 -10.7h-12.3zM1246.8 45.1l6.2 -10.7h-12.3zM1258.4 51.2l6.2 -10.7h-12.3zM1269.9 56.1l6.2 -10.7h-12.3zM1281.5 62.5l6.2 -10.7h-12.3zM1293.1 69.8l6.2 -10.7h-12.3zM1304.7 76.6l6.2 -10.7h-12.3zM1316.3 82.5l6.2 -10.7h-12.3zM1327.8 87.8l6.2 -10.7h-12.3zM1339.4 92.1l6.2 -10.7h-12.3zM1351.0 95.3l6.2 -10.7h-12.3zM1362.6 97.8l6.2 -10.7h-12.3zM1374.2 98.5l6.2 -10.7h-12.3zM1385.7 98.1l6.2 -10.7h-12.3zM1397.3 96.2l6.2 -10.7h-12.3zM1408.9 93.9l6.2 -10.7h-12.3zM1420.5 89.6l6.2 -10.7h-12.3zM1432.1 84.8l6.2 -10.7h-12.3zM1443.6 78.9l6.2 -10.7h-12.3zM1455.2 73.1l6.2 -10.7h-12.3zM1466.8 66.6l6.2 -10.7h-12.3zM1478.4 59.7l6.2 -10.7h-12.3zM1490.0 53.8l6.2 -10.7h-12.3zM1501.5 48.8l6.2 -10.7h-12.3zM1513.1 45.6l6.2 -10.7h-12.3zM1524.7 45.1l6.2 -10.7h-12.3zM1536.3 47.0l6.2 -10.7h-12.3zM1547.9 52.0l6.2 -10.7h-12.3zM1559.4 61.6l6.2 -10.7h-12.3zM1571.0 73.4l6.2 -10.7h-12.3zM1582.6 88.7l6.2 -10.7h-12.3zM1594.2 104.4l6.2 -10.7h-12.3zM1605.8 119.9l6.2 -10.7h-12.3zM1617.3 137.7l6.2 -10.7h-12.3z" fill="#008000" stroke="#008000" stroke-width="1.2"/>
</g>
<rect x="1061.4" y="123.6" width="544" height="182.4" fill="#fff" stroke="#222" stroke-width="1.1"/>
<path d="M1080 155.8H1134.6" stroke="#000" stroke-width="2.2"/>
<rect x="1102.4" y="151.2" width="9.2" height="9.2" fill="#000" stroke="#000" stroke-width="1.2"/>
<path d="M1080 200.7H1134.6" stroke="#f00" stroke-width="2.2"/>
<circle cx="1107.0" cy="200.7" r="4.6" fill="#f00" stroke="#f00" stroke-width="1.2"/>
<path d="M1080 245.6H1134.6" stroke="#00f" stroke-width="2.2"/>
<polygon points="1107.0,239.1 1112.6,248.9 1101.4,248.9" fill="#00f" stroke="#00f" stroke-width="1.2"/>
<path d="M1080 291.2H1134.6" stroke="#008000" stroke-width="2.2"/>
<polygon points="1107.0,297.7 1112.6,287.9 1101.4,287.9" fill="#008000" stroke="#008000" stroke-width="1.2"/>
<g font-family="'Liberation Sans', Arial, sans-serif" font-size="36.7">
<text x="1140" y="163.4">co-pol β1=45°, β2=135°</text>
<text x="1140" y="208.3">cross-pol β1=45°, β2=135°</text>
<text x="1140" y="253.2">co-pol β1=135°, β2=45°</text>
<text x="1140" y="298.8">cross-pol β1=135°, β2=45°</text>
</g>
<rect x="1003.6" y="33.0" width="617.6" height="459.9" fill="none" stroke="#000" stroke-width="1.6"/>
<path d="M1003.6 492.9H994.6M1003.6 401.7H994.6M1003.6 310.6H994.6M1003.6 219.4H994.6M1003.6 128.3H994.6M1003.6 37.1H994.6M1003.6 447.3H998.6M1003.6 356.2H998.6M1003.6 265.0H998.6M1003.6 173.8H998.6M1003.6 82.7H998.6M1003.6 492.9V501.9M1158.0 492.9V501.9M1312.4 492.9V501.9M1466.8 492.9V501.9M1621.2 492.9V501.9M1080.8 492.9V497.9M1235.2 492.9V497.9M1389.6 492.9V497.9M1544.0 492.9V497.9" stroke="#000" stroke-width="1.6" fill="none"/>
<g font-family="'Liberation Sans', Arial, sans-serif" font-size="45" fill="#000">
<text x="989.3" y="505.4" text-anchor="end">0.0</text>
<text x="989.3" y="414.2" text-anchor="end">0.2</text>
<text x="989.3" y="323.1" text-anchor="end">0.4</text>
<text x="989.3" y="231.9" text-anchor="end">0.6</text>
<text x="989.3" y="140.8" text-anchor="end">0.8</text>
<text x="989.3" y="49.6" text-anchor="end">1.0</text>
<text x="1003.6" y="543.6" text-anchor="middle">4</text>
<text x="1158.0" y="543.6" text-anchor="middle">8</text>
<text x="1312.4" y="543.6" text-anchor="middle">12</text>
<text x="1466.8" y="543.6" text-anchor="middle">16</text>
<text x="1621.2" y="543.6" text-anchor="middle">20</text>
<text x="1312.3" y="613.2" text-anchor="middle">Frequency(GHz)</text>
<text x="905.3" y="502.7" transform="rotate(-90 905.3 502.7)">Reflection magnitude</text>
</g>
<text x="845.5" y="33.6" font-family="'Liberation Serif', 'Times New Roman', serif" font-weight="bold" font-size="46">(b)</text>
<g clip-path="url(#cc)">
<path d="M171.8 859.2 175.7 862.2 179.5 865.8 183.4 869.9 187.2 874.6 191.1 880.1 195.0 886.0 198.8 892.4 202.7 899.7 206.5 908.1 214.3 926.8 225.8 956.3 229.7 965.6 233.6 974.2 237.4 982.4 241.3 989.7 245.1 996.3 249.0 1002.3 252.8 1007.7 256.7 1012.3 268.3 1024.6 276.0 1032.3 279.9 1035.7 299.2 1051.2 322.3 1067.7 333.9 1076.8 357.1 1094.4 376.3 1109.4 380.2 698.3 407.2 718.5 426.5 732.4 442.0 743.0 449.7 747.9 457.4 752.6 488.3 770.2 507.6 780.4 526.9 789.7 546.2 798.7 577.0 812.8 604.1 825.7 631.1 839.1 654.2 851.5 661.9 856.0 681.2 867.7 727.5 898.2 739.1 906.1 762.3 920.6 773.9 928.2 785.4 934.9 789.3 937.3" fill="none" stroke="#000" stroke-width="2.0" stroke-linejoin="round"/>
<path d="M171.8 1066.2 175.7 1069.2 179.5 1072.8 183.4 1076.9 187.2 1081.7 191.1 1087.1 195.0 1093.0 198.8 1099.5 202.7 1106.7 206.5 701.0 210.4 710.2 225.8 749.2 229.7 758.5 237.4 775.3 241.3 782.7 245.1 789.3 249.0 795.3 252.8 800.6 256.7 805.3 268.3 817.6 276.0 825.2 279.9 828.6 295.3 841.1 303.0 847.0 322.3 860.7 333.9 869.8 357.1 887.4 376.3 902.4 407.2 925.5 422.7 936.7 434.2 944.9 442.0 950.1 449.7 955.0 461.3 961.9 484.4 975.1 496.0 981.4 507.6 987.4 530.7 998.6 550.0 1007.6 577.0 1019.8 596.3 1029.0 623.3 1042.2 646.5 1054.3 658.1 1060.7 681.2 1074.7 731.4 1107.9 735.3 696.5 743.0 701.5 762.3 713.6 773.9 721.2 785.4 727.8 789.3 730.2" fill="none" stroke="#f00" stroke-width="2.0" stroke-linejoin="round"/>
<path d="M171.8 696.3 202.7 696.3 206.5 1110.4 376.3 1110.4 380.2 696.3 731.4 696.3 735.3 1110.4 789.3 1110.4" fill="none" stroke="#00f" stroke-width="2.0" stroke-linejoin="round"/>
<path d="M167.2 854.6h9.2v9.2h-9.2zM174.9 861.2h9.2v9.2h-9.2zM182.6 870.0h9.2v9.2h-9.2zM190.4 881.4h9.2v9.2h-9.2zM198.1 895.1h9.2v9.2h-9.2zM205.8 912.6h9.2v9.2h-9.2zM213.5 931.9h9.2v9.2h-9.2zM221.2 951.7h9.2v9.2h-9.2zM229.0 969.6h9.2v9.2h-9.2zM236.7 985.1h9.2v9.2h-9.2zM244.4 997.7h9.2v9.2h-9.2zM252.1 1007.7h9.2v9.2h-9.2zM259.8 1016.0h9.2v9.2h-9.2zM267.5 1024.0h9.2v9.2h-9.2zM275.3 1031.1h9.2v9.2h-9.2zM283.0 1037.4h9.2v9.2h-9.2zM290.7 1043.6h9.2v9.2h-9.2zM298.4 1049.4h9.2v9.2h-9.2zM306.1 1055.0h9.2v9.2h-9.2zM313.9 1060.3h9.2v9.2h-9.2zM321.6 1066.1h9.2v9.2h-9.2zM329.3 1072.2h9.2v9.2h-9.2zM337.0 1078.1h9.2v9.2h-9.2zM344.7 1084.0h9.2v9.2h-9.2zM352.5 1089.8h9.2v9.2h-9.2zM360.2 1095.9h9.2v9.2h-9.2zM367.9 1101.9h9.2v9.2h-9.2zM375.6 693.7h9.2v9.2h-9.2zM383.3 699.5h9.2v9.2h-9.2zM391.0 705.3h9.2v9.2h-9.2zM398.8 711.0h9.2v9.2h-9.2zM406.5 716.7h9.2v9.2h-9.2zM414.2 722.3h9.2v9.2h-9.2zM421.9 727.8h9.2v9.2h-9.2zM429.6 733.2h9.2v9.2h-9.2zM437.4 738.4h9.2v9.2h-9.2zM445.1 743.3h9.2v9.2h-9.2zM452.8 748.0h9.2v9.2h-9.2zM460.5 752.4h9.2v9.2h-9.2zM468.2 756.9h9.2v9.2h-9.2zM475.9 761.3h9.2v9.2h-9.2zM483.7 765.6h9.2v9.2h-9.2zM491.4 769.8h9.2v9.2h-9.2zM499.1 773.8h9.2v9.2h-9.2zM506.8 777.7h9.2v9.2h-9.2zM514.5 781.5h9.2v9.2h-9.2zM522.3 785.1h9.2v9.2h-9.2zM530.0 788.7h9.2v9.2h-9.2zM537.7 792.4h9.2v9.2h-9.2zM545.4 795.9h9.2v9.2h-9.2zM553.1 799.4h9.2v9.2h-9.2zM560.9 802.9h9.2v9.2h-9.2zM568.6 806.4h9.2v9.2h-9.2zM576.3 810.0h9.2v9.2h-9.2zM584.0 813.6h9.2v9.2h-9.2zM591.7 817.3h9.2v9.2h-9.2zM599.4 821.1h9.2v9.2h-9.2zM607.2 824.8h9.2v9.2h-9.2zM614.9 828.6h9.2v9.2h-9.2zM622.6 832.5h9.2v9.2h-9.2zM630.3 836.5h9.2v9.2h-9.2zM638.0 840.5h9.2v9.2h-9.2zM645.8 844.7h9.2v9.2h-9.2zM653.5 849.1h9.2v9.2h-9.2zM661.2 853.8h9.2v9.2h-9.2zM668.9 858.5h9.2v9.2h-9.2zM676.6 863.1h9.2v9.2h-9.2zM684.4 868.1h9.2v9.2h-9.2zM692.1 873.2h9.2v9.2h-9.2zM699.8 878.4h9.2v9.2h-9.2zM707.5 883.5h9.2v9.2h-9.2zM715.2 888.5h9.2v9.2h-9.2zM722.9 893.6h9.2v9.2h-9.2zM730.7 898.9h9.2v9.2h-9.2zM738.4 904.0h9.2v9.2h-9.2zM746.1 908.8h9.2v9.2h-9.2zM753.8 913.6h9.2v9.2h-9.2zM761.5 918.5h9.2v9.2h-9.2zM769.3 923.6h9.2v9.2h-9.2zM777.0 928.0h9.2v9.2h-9.2zM784.7 932.7h9.2v9.2h-9.2z" fill="#000" stroke="#000" stroke-width="1.2"/>
<path d="M166.7 1066.2a5.10 5.10 0 1 0 10.2 0a5.10 5.10 0 1 0 -10.2 0zM178.3 1076.9a5.10 5.10 0 1 0 10.2 0a5.10 5.10 0 1 0 -10.2 0zM189.9 1093.0a5.10 5.10 0 1 0 10.2 0a5.10 5.10 0 1 0 -10.2 0zM201.4 701.0a5.10 5.10 0 1 0 10.2 0a5.10 5.10 0 1 0 -10.2 0zM213.0 729.4a5.10 5.10 0 1 0 10.2 0a5.10 5.10 0 1 0 -10.2 0zM224.6 758.5a5.10 5.10 0 1 0 10.2 0a5.10 5.10 0 1 0 -10.2 0zM236.2 782.7a5.10 5.10 0 1 0 10.2 0a5.10 5.10 0 1 0 -10.2 0zM247.7 800.6a5.10 5.10 0 1 0 10.2 0a5.10 5.10 0 1 0 -10.2 0zM259.3 813.5a5.10 5.10 0 1 0 10.2 0a5.10 5.10 0 1 0 -10.2 0zM270.9 825.2a5.10 5.10 0 1 0 10.2 0a5.10 5.10 0 1 0 -10.2 0zM282.5 834.9a5.10 5.10 0 1 0 10.2 0a5.10 5.10 0 1 0 -10.2 0zM294.1 844.1a5.10 5.10 0 1 0 10.2 0a5.10 5.10 0 1 0 -10.2 0zM305.6 852.5a5.10 5.10 0 1 0 10.2 0a5.10 5.10 0 1 0 -10.2 0zM317.2 860.7a5.10 5.10 0 1 0 10.2 0a5.10 5.10 0 1 0 -10.2 0zM328.8 869.8a5.10 5.10 0 1 0 10.2 0a5.10 5.10 0 1 0 -10.2 0zM340.4 878.6a5.10 5.10 0 1 0 10.2 0a5.10 5.10 0 1 0 -10.2 0zM352.0 887.4a5.10 5.10 0 1 0 10.2 0a5.10 5.10 0 1 0 -10.2 0zM363.5 896.4a5.10 5.10 0 1 0 10.2 0a5.10 5.10 0 1 0 -10.2 0zM375.1 905.3a5.10 5.10 0 1 0 10.2 0a5.10 5.10 0 1 0 -10.2 0zM386.7 914.0a5.10 5.10 0 1 0 10.2 0a5.10 5.10 0 1 0 -10.2 0zM398.3 922.7a5.10 5.10 0 1 0 10.2 0a5.10 5.10 0 1 0 -10.2 0zM409.8 931.2a5.10 5.10 0 1 0 10.2 0a5.10 5.10 0 1 0 -10.2 0zM421.4 939.5a5.10 5.10 0 1 0 10.2 0a5.10 5.10 0 1 0 -10.2 0zM433.0 947.5a5.10 5.10 0 1 0 10.2 0a5.10 5.10 0 1 0 -10.2 0zM444.6 955.0a5.10 5.10 0 1 0 10.2 0a5.10 5.10 0 1 0 -10.2 0zM456.2 961.9a5.10 5.10 0 1 0 10.2 0a5.10 5.10 0 1 0 -10.2 0zM467.7 968.5a5.10 5.10 0 1 0 10.2 0a5.10 5.10 0 1 0 -10.2 0zM479.3 975.1a5.10 5.10 0 1 0 10.2 0a5.10 5.10 0 1 0 -10.2 0zM490.9 981.4a5.10 5.10 0 1 0 10.2 0a5.10 5.10 0 1 0 -10.2 0zM502.5 987.4a5.10 5.10 0 1 0 10.2 0a5.10 5.10 0 1 0 -10.2 0zM514.0 993.1a5.10 5.10 0 1 0 10.2 0a5.10 5.10 0 1 0 -10.2 0zM525.6 998.6a5.10 5.10 0 1 0 10.2 0a5.10 5.10 0 1 0 -10.2 0zM537.2 1004.0a5.10 5.10 0 1 0 10.2 0a5.10 5.10 0 1 0 -10.2 0zM548.8 1009.3a5.10 5.10 0 1 0 10.2 0a5.10 5.10 0 1 0 -10.2 0zM560.4 1014.5a5.10 5.10 0 1 0 10.2 0a5.10 5.10 0 1 0 -10.2 0zM571.9 1019.8a5.10 5.10 0 1 0 10.2 0a5.10 5.10 0 1 0 -10.2 0zM583.5 1025.3a5.10 5.10 0 1 0 10.2 0a5.10 5.10 0 1 0 -10.2 0zM595.1 1030.8a5.10 5.10 0 1 0 10.2 0a5.10 5.10 0 1 0 -10.2 0zM606.7 1036.5a5.10 5.10 0 1 0 10.2 0a5.10 5.10 0 1 0 -10.2 0zM618.2 1042.2a5.10 5.10 0 1 0 10.2 0a5.10 5.10 0 1 0 -10.2 0zM629.8 1048.1a5.10 5.10 0 1 0 10.2 0a5.10 5.10 0 1 0 -10.2 0zM641.4 1054.3a5.10 5.10 0 1 0 10.2 0a5.10 5.10 0 1 0 -10.2 0zM653.0 1060.7a5.10 5.10 0 1 0 10.2 0a5.10 5.10 0 1 0 -10.2 0zM664.6 1067.8a5.10 5.10 0 1 0 10.2 0a5.10 5.10 0 1 0 -10.2 0zM676.1 1074.7a5.10 5.10 0 1 0 10.2 0a5.10 5.10 0 1 0 -10.2 0zM687.7 1082.3a5.10 5.10 0 1 0 10.2 0a5.10 5.10 0 1 0 -10.2 0zM699.3 1090.0a5.10 5.10 0 1 0 10.2 0a5.10 5.10 0 1 0 -10.2 0zM710.9 1097.6a5.10 5.10 0 1 0 10.2 0a5.10 5.10 0 1 0 -10.2 0zM722.4 1105.2a5.10 5.10 0 1 0 10.2 0a5.10 5.10 0 1 0 -10.2 0zM734.0 699.1a5.10 5.10 0 1 0 10.2 0a5.10 5.10 0 1 0 -10.2 0zM745.6 706.3a5.10 5.10 0 1 0 10.2 0a5.10 5.10 0 1 0 -10.2 0zM757.2 713.6a5.10 5.10 0 1 0 10.2 0a5.10 5.10 0 1 0 -10.2 0zM768.8 721.2a5.10 5.10 0 1 0 10.2 0a5.10 5.10 0 1 0 -10.2 0zM780.3 727.8a5.10 5.10 0 1 0 10.2 0a5.10 5.10 0 1 0 -10.2 0z" fill="#f00" stroke="#f00" stroke-width="1.2"/>
<path d="M171.8 690.2L177.6 694.4L175.4 701.2L168.2 701.2L166.0 694.4zM183.4 690.2L189.2 694.4L187.0 701.2L179.8 701.2L177.6 694.4zM195.0 690.2L200.7 694.4L198.5 701.2L191.4 701.2L189.2 694.4zM206.5 1104.3L212.3 1108.5L210.1 1115.3L203.0 1115.3L200.7 1108.5zM218.1 1104.3L223.9 1108.5L221.7 1115.3L214.5 1115.3L212.3 1108.5zM229.7 1104.3L235.5 1108.5L233.3 1115.3L226.1 1115.3L223.9 1108.5zM241.3 1104.3L247.1 1108.5L244.8 1115.3L237.7 1115.3L235.5 1108.5zM252.8 1104.3L258.6 1108.5L256.4 1115.3L249.3 1115.3L247.1 1108.5zM264.4 1104.3L270.2 1108.5L268.0 1115.3L260.8 1115.3L258.6 1108.5zM276.0 1104.3L281.8 1108.5L279.6 1115.3L272.4 1115.3L270.2 1108.5zM287.6 1104.3L293.4 1108.5L291.2 1115.3L284.0 1115.3L281.8 1108.5zM299.2 1104.3L305.0 1108.5L302.7 1115.3L295.6 1115.3L293.4 1108.5zM310.7 1104.3L316.5 1108.5L314.3 1115.3L307.2 1115.3L304.9 1108.5zM322.3 1104.3L328.1 1108.5L325.9 1115.3L318.7 1115.3L316.5 1108.5zM333.9 1104.3L339.7 1108.5L337.5 1115.3L330.3 1115.3L328.1 1108.5zM345.5 1104.3L351.3 1108.5L349.1 1115.3L341.9 1115.3L339.7 1108.5zM357.1 1104.3L362.8 1108.5L360.6 1115.3L353.5 1115.3L351.3 1108.5zM368.6 1104.3L374.4 1108.5L372.2 1115.3L365.0 1115.3L362.8 1108.5zM380.2 690.2L386.0 694.4L383.8 701.2L376.6 701.2L374.4 694.4zM391.8 690.2L397.6 694.4L395.4 701.2L388.2 701.2L386.0 694.4zM403.4 690.2L409.2 694.4L406.9 701.2L399.8 701.2L397.6 694.4zM414.9 690.2L420.7 694.4L418.5 701.2L411.4 701.2L409.1 694.4zM426.5 690.2L432.3 694.4L430.1 701.2L422.9 701.2L420.7 694.4zM438.1 690.2L443.9 694.4L441.7 701.2L434.5 701.2L432.3 694.4zM449.7 690.2L455.5 694.4L453.3 701.2L446.1 701.2L443.9 694.4zM461.3 690.2L467.0 694.4L464.8 701.2L457.7 701.2L455.5 694.4zM472.8 690.2L478.6 694.4L476.4 701.2L469.3 701.2L467.0 694.4zM484.4 690.2L490.2 694.4L488.0 701.2L480.8 701.2L478.6 694.4zM496.0 690.2L501.8 694.4L499.6 701.2L492.4 701.2L490.2 694.4zM507.6 690.2L513.4 694.4L511.1 701.2L504.0 701.2L501.8 694.4zM519.1 690.2L524.9 694.4L522.7 701.2L515.6 701.2L513.4 694.4zM530.7 690.2L536.5 694.4L534.3 701.2L527.1 701.2L524.9 694.4zM542.3 690.2L548.1 694.4L545.9 701.2L538.7 701.2L536.5 694.4zM553.9 690.2L559.7 694.4L557.5 701.2L550.3 701.2L548.1 694.4zM565.5 690.2L571.2 694.4L569.0 701.2L561.9 701.2L559.7 694.4zM577.0 690.2L582.8 694.4L580.6 701.2L573.5 701.2L571.2 694.4zM588.6 690.2L594.4 694.4L592.2 701.2L585.0 701.2L582.8 694.4zM600.2 690.2L606.0 694.4L603.8 701.2L596.6 701.2L594.4 694.4zM611.8 690.2L617.6 694.4L615.3 701.2L608.2 701.2L606.0 694.4zM623.3 690.2L629.1 694.4L626.9 701.2L619.8 701.2L617.6 694.4zM634.9 690.2L640.7 694.4L638.5 701.2L631.3 701.2L629.1 694.4zM646.5 690.2L652.3 694.4L650.1 701.2L642.9 701.2L640.7 694.4zM658.1 690.2L663.9 694.4L661.7 701.2L654.5 701.2L652.3 694.4zM669.7 690.2L675.5 694.4L673.2 701.2L666.1 701.2L663.9 694.4zM681.2 690.2L687.0 694.4L684.8 701.2L677.7 701.2L675.4 694.4zM692.8 690.2L698.6 694.4L696.4 701.2L689.2 701.2L687.0 694.4zM704.4 690.2L710.2 694.4L708.0 701.2L700.8 701.2L698.6 694.4zM716.0 690.2L721.8 694.4L719.6 701.2L712.4 701.2L710.2 694.4zM727.5 690.2L733.3 694.4L731.1 701.2L724.0 701.2L721.8 694.4zM739.1 1104.3L744.9 1108.5L742.7 1115.3L735.5 1115.3L733.3 1108.5zM750.7 1104.3L756.5 1108.5L754.3 1115.3L747.1 1115.3L744.9 1108.5zM762.3 1104.3L768.1 1108.5L765.9 1115.3L758.7 1115.3L756.5 1108.5zM773.9 1104.3L779.7 1108.5L777.4 1115.3L770.3 1115.3L768.1 1108.5zM785.4 1104.3L791.2 1108.5L789.0 1115.3L781.9 1115.3L779.6 1108.5z" fill="#00f" stroke="#00f" stroke-width="1.2"/>
</g>
<rect x="210.8" y="921.5" width="515.4" height="135.8" fill="#fff" stroke="#222" stroke-width="1.1"/>
<path d="M223.6 951.6H277.9" stroke="#000" stroke-width="2.2"/>
<rect x="246.1" y="947.0" width="9.2" height="9.2" fill="#000" stroke="#000" stroke-width="1.2"/>
<path d="M223.6 996.1H277.9" stroke="#f00" stroke-width="2.2"/>
<circle cx="250.7" cy="996.1" r="4.6" fill="#f00" stroke="#f00" stroke-width="1.2"/>
<path d="M223.6 1040.9H277.9" stroke="#00f" stroke-width="2.2"/>
<polygon points="250.7,1035.1 256.2,1039.1 254.1,1045.6 247.3,1045.6 245.2,1039.1" fill="#00f" stroke="#00f" stroke-width="1.2"/>
<g font-family="'Liberation Sans', Arial, sans-serif" font-size="36.7">
<text x="283.6" y="959.2">cross-pol β1=45°, β2=135°</text>
<text x="283.6" y="1003.7">cross-pol β1=135°, β2=45°</text>
<text x="283.6" y="1048.5">phase difference</text>
</g>
<rect x="171.8" y="673.3" width="617.5" height="460.1" fill="none" stroke="#000" stroke-width="1.6"/>
<path d="M171.8 1133.4H162.8M171.8 1018.4H162.8M171.8 903.4H162.8M171.8 788.3H162.8M171.8 673.3H162.8M171.8 1075.9H166.8M171.8 960.9H166.8M171.8 845.8H166.8M171.8 730.8H166.8M171.8 1133.4V1142.4M326.2 1133.4V1142.4M480.6 1133.4V1142.4M634.9 1133.4V1142.4M789.3 1133.4V1142.4M249.0 1133.4V1138.4M403.4 1133.4V1138.4M557.7 1133.4V1138.4M712.1 1133.4V1138.4" stroke="#000" stroke-width="1.6" fill="none"/>
<g font-family="'Liberation Sans', Arial, sans-serif" font-size="45" fill="#000">
<text x="156.3" y="1145.9" text-anchor="end">-200</text>
<text x="156.3" y="1030.9" text-anchor="end">-100</text>
<text x="156.3" y="915.9" text-anchor="end">0</text>
<text x="156.3" y="800.8" text-anchor="end">100</text>
<text x="156.3" y="685.8" text-anchor="end">200</text>
<text x="171.8" y="1184.1" text-anchor="middle">4</text>
<text x="326.2" y="1184.1" text-anchor="middle">8</text>
<text x="480.6" y="1184.1" text-anchor="middle">12</text>
<text x="634.9" y="1184.1" text-anchor="middle">16</text>
<text x="789.3" y="1184.1" text-anchor="middle">20</text>
<text x="480.3" y="1253.7" text-anchor="middle">Frequency(GHz)</text>
<text x="44.9" y="1151.3" transform="rotate(-90 44.9 1151.3)">Reflection phase(deg)</text>
</g>
<text x="0.5" y="669.7" font-family="'Liberation Serif', 'Times New Roman', serif" font-weight="bold" font-size="46">(c)</text>
<g clip-path="url(#cd)">
<path d="M1006.0 687.7 1009.1 690.8 1011.8 693.9 1014.1 697.0 1016.4 700.5 1018.4 704.0 1020.3 708.0 1022.2 712.7 1024.2 718.0 1027.6 729.5 1031.1 744.2 1034.2 760.5 1037.3 780.1 1040.4 803.8 1043.1 828.3 1045.8 856.4 1048.9 892.5 1058.1 1012.1 1062.8 1092.9 1068.2 1124.2 1074.4 1036.8 1083.2 982.7 1086.3 966.7 1089.4 953.1 1093.3 938.8 1097.1 926.9 1101.4 916.2 1103.7 911.3 1106.0 907.1 1108.0 904.1 1110.3 901.0 1112.6 898.4 1114.9 896.5 1117.2 895.0 1119.5 893.9 1121.9 893.3 1124.6 893.0 1127.6 893.3 1130.4 894.0 1133.1 895.3 1135.8 897.1 1138.8 899.6 1142.3 902.9 1147.7 908.6 1151.6 913.1 1155.8 918.9 1160.1 925.9 1164.3 933.9 1175.5 956.3 1181.7 970.0 1188.3 986.9 1199.1 1017.8 1209.5 1048.6 1214.5 1064.1 1225.7 1092.7 1238.1 1126.7 1248.5 1100.0 1259.7 1056.6 1262.8 1047.9 1265.9 1041.3 1274.0 1026.1 1284.1 1004.6 1289.8 992.8 1298.7 975.8 1303.4 968.0 1306.1 964.4 1308.4 962.0 1310.7 960.3 1316.5 956.9 1319.2 954.9 1322.3 952.0 1329.2 944.4 1332.7 940.9 1337.3 937.0 1342.8 933.3 1347.8 930.3 1354.3 926.8 1359.0 924.6 1362.8 923.0 1365.9 922.1 1369.4 921.4 1373.3 921.1 1378.3 920.9 1384.8 921.1 1390.3 922.1 1395.3 923.7 1406.5 927.9 1412.3 929.4 1415.4 929.8 1418.1 929.8 1420.8 929.3 1423.1 928.6 1429.3 943.1 1434.7 954.0 1437.8 959.3 1445.1 970.5 1453.6 984.3 1457.5 991.1 1460.5 997.4 1464.8 1007.0 1469.8 1019.4 1471.7 1025.2 1476.8 1042.2 1478.3 1046.3 1479.5 1048.7 1480.6 1050.3 1481.8 1051.0 1483.7 1051.8 1488.0 1052.7 1489.9 1053.4 1491.8 1054.5 1492.2 1055.4 1493.0 1060.3 1493.8 1068.6 1496.8 1112.1 1497.6 1120.0 1498.4 1124.5 1498.8 1125.1 1499.2 1123.7 1499.5 1119.8 1500.3 1106.2 1502.6 1052.7 1503.4 1042.8 1503.8 1041.4 1504.6 1041.7 1505.7 1043.2 1507.7 1048.0 1514.6 1073.6 1516.9 1084.1 1521.6 1107.9 1523.9 1117.6 1525.0 1121.1 1525.8 1122.8 1527.0 1124.1 1527.7 1124.1 1528.5 1123.2 1529.3 1121.4 1531.2 1114.1 1533.1 1103.7 1537.8 1076.1 1545.1 1041.8 1548.2 1025.8 1551.7 1003.4 1560.2 938.9 1569.4 878.1 1571.4 866.8 1573.3 857.6 1575.2 851.1 1576.0 849.5 1576.8 848.5 1577.6 848.1 1578.3 848.4 1579.1 849.0 1579.9 850.0 1581.4 853.1 1583.4 858.7 1585.3 866.0 1587.2 874.4 1593.4 905.5 1594.9 916.6 1596.5 931.1 1601.9 993.1 1604.2 1016.3 1605.4 1025.4 1606.5 1032.1 1607.7 1036.0 1608.1 1036.6 1608.5 1036.8 1608.8 1036.0 1609.6 1030.2 1610.8 1012.9 1614.2 935.2 1615.8 907.8 1618.1 884.5 1620.4 865.1 1622.4 853.4 1623.1 850.3 1623.9 848.1" fill="none" stroke="#000" stroke-width="2.7" stroke-linejoin="round"/>
<path d="M1001.0 682.7h10.0v10.0h-10.0zM1012.6 697.6h10.0v10.0h-10.0zM1024.2 730.6h10.0v10.0h-10.0zM1035.8 802.1h10.0v10.0h-10.0zM1047.3 931.7h10.0v10.0h-10.0zM1058.9 1094.6h10.0v10.0h-10.0zM1070.5 1024.9h10.0v10.0h-10.0zM1082.1 958.1h10.0v10.0h-10.0zM1093.7 917.7h10.0v10.0h-10.0zM1105.3 896.0h10.0v10.0h-10.0zM1116.9 888.3h10.0v10.0h-10.0zM1128.4 890.5h10.0v10.0h-10.0zM1140.0 900.7h10.0v10.0h-10.0zM1151.6 915.1h10.0v10.0h-10.0zM1163.2 936.6h10.0v10.0h-10.0zM1174.8 960.5h10.0v10.0h-10.0zM1186.4 990.5h10.0v10.0h-10.0zM1198.0 1024.2h10.0v10.0h-10.0zM1209.5 1059.1h10.0v10.0h-10.0zM1221.1 1088.7h10.0v10.0h-10.0zM1232.7 1120.6h10.0v10.0h-10.0zM1244.3 1092.0h10.0v10.0h-10.0zM1255.9 1048.0h10.0v10.0h-10.0zM1267.5 1024.2h10.0v10.0h-10.0zM1279.1 999.6h10.0v10.0h-10.0zM1290.6 976.6h10.0v10.0h-10.0zM1302.2 958.1h10.0v10.0h-10.0zM1313.8 950.3h10.0v10.0h-10.0zM1325.4 938.1h10.0v10.0h-10.0zM1337.0 928.8h10.0v10.0h-10.0zM1348.6 922.2h10.0v10.0h-10.0zM1360.2 917.3h10.0v10.0h-10.0zM1371.7 915.9h10.0v10.0h-10.0zM1383.3 916.6h10.0v10.0h-10.0zM1394.9 920.4h10.0v10.0h-10.0zM1406.5 924.3h10.0v10.0h-10.0zM1418.1 923.6h10.0v10.0h-10.0zM1429.7 949.0h10.0v10.0h-10.0zM1441.3 967.4h10.0v10.0h-10.0zM1452.8 986.9h10.0v10.0h-10.0zM1464.4 1013.4h10.0v10.0h-10.0zM1476.0 1045.6h10.0v10.0h-10.0zM1487.6 1052.4h10.0v10.0h-10.0zM1499.2 1036.5h10.0v10.0h-10.0zM1510.8 1073.5h10.0v10.0h-10.0zM1522.4 1119.2h10.0v10.0h-10.0zM1533.9 1065.4h10.0v10.0h-10.0zM1545.5 1006.5h10.0v10.0h-10.0zM1557.1 921.4h10.0v10.0h-10.0zM1568.7 851.0h10.0v10.0h-10.0zM1580.3 861.0h10.0v10.0h-10.0zM1591.9 930.2h10.0v10.0h-10.0zM1603.5 1031.8h10.0v10.0h-10.0zM1615.0 863.0h10.0v10.0h-10.0z" fill="#fff" stroke="#000" stroke-width="1.2"/>
<path d="M1006.0 685.7 1009.1 689.0 1011.8 692.3 1014.5 696.1 1016.8 699.7 1021.1 707.7 1023.0 712.1 1024.9 717.2 1028.0 727.1 1031.1 740.1 1033.8 754.4 1036.5 771.7 1038.8 788.9 1041.5 811.6 1044.2 837.1 1046.9 865.2 1062.0 1036.0 1064.3 1064.5 1067.8 1112.8 1068.2 1116.6 1068.6 1118.4 1068.9 1117.2 1069.7 1108.2 1072.4 1064.0 1074.4 1036.8 1075.9 1019.4 1077.4 1005.7 1079.8 989.6 1082.5 974.8 1086.3 957.4 1091.7 935.6 1095.6 922.1 1099.1 912.2 1101.0 907.7 1102.9 903.8 1104.9 900.4 1107.2 897.0 1109.9 893.7 1112.6 890.9 1115.3 888.6 1118.4 886.4 1121.5 884.7 1124.9 883.2 1128.0 882.4 1131.1 882.1 1133.4 882.3 1135.4 882.8 1137.7 883.7 1140.0 884.9 1142.3 886.4 1145.0 888.5 1150.4 893.6 1155.8 900.0 1161.2 907.5 1166.3 915.7 1170.9 924.4 1175.9 935.0 1182.9 950.7 1187.9 962.6 1192.1 973.5 1203.3 1005.0 1214.5 1035.3 1218.0 1045.9 1225.0 1068.3 1228.4 1078.2 1231.9 1086.3 1240.0 1102.7 1241.2 1104.7 1242.3 1105.9 1243.1 1106.0 1243.5 1105.8 1244.7 1104.2 1245.8 1101.6 1250.5 1089.6 1257.8 1075.2 1260.5 1069.4 1264.0 1060.7 1275.2 1030.4 1278.6 1022.0 1281.7 1015.4 1285.6 1008.5 1295.3 994.6 1304.1 979.9 1308.4 973.6 1313.8 967.2 1331.6 948.7 1338.1 942.6 1343.5 938.6 1347.0 936.6 1350.9 934.8 1355.1 933.3 1359.4 932.0 1363.2 931.2 1367.1 930.8 1370.9 930.6 1375.2 930.8 1379.1 931.3 1382.5 932.0 1386.0 933.0 1389.1 934.1 1394.1 936.5 1406.1 943.1 1411.5 945.7 1428.9 971.9 1432.7 978.1 1437.4 986.8 1441.2 994.9 1444.3 1002.5 1447.4 1011.5 1449.0 1017.3 1450.5 1024.1 1461.7 1077.4 1462.9 1082.1 1464.0 1085.5 1464.8 1086.9 1465.6 1087.4 1466.7 1087.2 1467.9 1086.8 1469.8 1085.5 1473.7 1082.5 1477.5 1077.5 1478.7 1076.4 1479.9 1076.0 1480.2 1076.3 1480.6 1077.1 1481.4 1080.1 1482.6 1087.5 1485.6 1113.4 1486.8 1121.6 1488.0 1126.8 1488.3 1127.6 1488.7 1127.9 1489.1 1127.1 1489.5 1124.8 1490.3 1117.0 1493.0 1079.1 1494.5 1053.3 1499.2 967.3 1504.2 889.7 1505.7 870.4 1506.5 863.4 1507.3 858.9 1507.7 857.7 1508.0 857.3 1508.4 857.8 1508.8 859.1 1509.6 864.1 1510.7 876.7 1512.3 900.5 1516.5 978.3 1522.3 1065.0 1523.9 1085.8 1525.0 1098.0 1526.2 1106.1 1527.0 1108.7 1527.4 1109.0 1527.7 1108.8 1528.1 1108.2 1528.9 1105.8 1529.7 1102.1 1531.6 1088.0 1537.4 1027.5 1548.2 923.5 1553.6 878.3 1557.9 846.1 1560.6 828.8 1563.3 815.2 1565.6 806.3 1571.4 787.5 1572.9 781.6 1574.5 774.5 1575.6 767.6 1576.8 758.8 1581.0 720.8 1583.0 706.3 1584.5 698.8 1588.0 690.6 1590.3 686.2 1592.2 683.3 1594.2 681.3 1596.1 680.3 1596.9 680.2 1597.3 680.7 1597.6 682.1 1598.4 687.6 1599.2 695.9 1600.3 712.7 1605.4 802.0 1610.0 904.2 1611.2 920.3 1611.9 925.6 1612.3 926.4 1613.9 926.2 1615.0 925.4 1615.8 924.2 1616.6 922.5 1617.3 920.0 1618.9 912.1 1620.4 899.5 1621.6 886.3 1622.7 869.3 1623.9 848.1" fill="none" stroke="#f00" stroke-width="2.7" stroke-linejoin="round"/>
<path d="M1001.0 685.7a5.00 5.00 0 1 0 10.0 0a5.00 5.00 0 1 0 -10.0 0zM1012.6 701.0a5.00 5.00 0 1 0 10.0 0a5.00 5.00 0 1 0 -10.0 0zM1024.2 731.5a5.00 5.00 0 1 0 10.0 0a5.00 5.00 0 1 0 -10.0 0zM1035.8 804.8a5.00 5.00 0 1 0 10.0 0a5.00 5.00 0 1 0 -10.0 0zM1047.3 926.3a5.00 5.00 0 1 0 10.0 0a5.00 5.00 0 1 0 -10.0 0zM1058.9 1059.5a5.00 5.00 0 1 0 10.0 0a5.00 5.00 0 1 0 -10.0 0zM1070.5 1023.4a5.00 5.00 0 1 0 10.0 0a5.00 5.00 0 1 0 -10.0 0zM1082.1 954.2a5.00 5.00 0 1 0 10.0 0a5.00 5.00 0 1 0 -10.0 0zM1093.7 913.2a5.00 5.00 0 1 0 10.0 0a5.00 5.00 0 1 0 -10.0 0zM1105.3 893.3a5.00 5.00 0 1 0 10.0 0a5.00 5.00 0 1 0 -10.0 0zM1116.9 884.5a5.00 5.00 0 1 0 10.0 0a5.00 5.00 0 1 0 -10.0 0zM1128.4 882.3a5.00 5.00 0 1 0 10.0 0a5.00 5.00 0 1 0 -10.0 0zM1140.0 888.5a5.00 5.00 0 1 0 10.0 0a5.00 5.00 0 1 0 -10.0 0zM1151.6 901.0a5.00 5.00 0 1 0 10.0 0a5.00 5.00 0 1 0 -10.0 0zM1163.2 919.2a5.00 5.00 0 1 0 10.0 0a5.00 5.00 0 1 0 -10.0 0zM1174.8 943.7a5.00 5.00 0 1 0 10.0 0a5.00 5.00 0 1 0 -10.0 0zM1186.4 971.4a5.00 5.00 0 1 0 10.0 0a5.00 5.00 0 1 0 -10.0 0zM1198.0 1003.9a5.00 5.00 0 1 0 10.0 0a5.00 5.00 0 1 0 -10.0 0zM1209.5 1035.3a5.00 5.00 0 1 0 10.0 0a5.00 5.00 0 1 0 -10.0 0zM1221.1 1071.8a5.00 5.00 0 1 0 10.0 0a5.00 5.00 0 1 0 -10.0 0zM1232.7 1097.8a5.00 5.00 0 1 0 10.0 0a5.00 5.00 0 1 0 -10.0 0zM1244.3 1092.3a5.00 5.00 0 1 0 10.0 0a5.00 5.00 0 1 0 -10.0 0zM1255.9 1068.5a5.00 5.00 0 1 0 10.0 0a5.00 5.00 0 1 0 -10.0 0zM1267.5 1037.4a5.00 5.00 0 1 0 10.0 0a5.00 5.00 0 1 0 -10.0 0zM1279.1 1011.1a5.00 5.00 0 1 0 10.0 0a5.00 5.00 0 1 0 -10.0 0zM1290.6 994.0a5.00 5.00 0 1 0 10.0 0a5.00 5.00 0 1 0 -10.0 0zM1302.2 975.2a5.00 5.00 0 1 0 10.0 0a5.00 5.00 0 1 0 -10.0 0zM1313.8 962.0a5.00 5.00 0 1 0 10.0 0a5.00 5.00 0 1 0 -10.0 0zM1325.4 949.9a5.00 5.00 0 1 0 10.0 0a5.00 5.00 0 1 0 -10.0 0zM1337.0 939.6a5.00 5.00 0 1 0 10.0 0a5.00 5.00 0 1 0 -10.0 0zM1348.6 933.8a5.00 5.00 0 1 0 10.0 0a5.00 5.00 0 1 0 -10.0 0zM1360.2 931.0a5.00 5.00 0 1 0 10.0 0a5.00 5.00 0 1 0 -10.0 0zM1371.7 931.0a5.00 5.00 0 1 0 10.0 0a5.00 5.00 0 1 0 -10.0 0zM1383.3 933.8a5.00 5.00 0 1 0 10.0 0a5.00 5.00 0 1 0 -10.0 0zM1394.9 939.6a5.00 5.00 0 1 0 10.0 0a5.00 5.00 0 1 0 -10.0 0zM1406.5 945.7a5.00 5.00 0 1 0 10.0 0a5.00 5.00 0 1 0 -10.0 0zM1418.1 963.2a5.00 5.00 0 1 0 10.0 0a5.00 5.00 0 1 0 -10.0 0zM1429.7 981.6a5.00 5.00 0 1 0 10.0 0a5.00 5.00 0 1 0 -10.0 0zM1441.3 1007.9a5.00 5.00 0 1 0 10.0 0a5.00 5.00 0 1 0 -10.0 0zM1452.8 1058.5a5.00 5.00 0 1 0 10.0 0a5.00 5.00 0 1 0 -10.0 0zM1464.4 1085.8a5.00 5.00 0 1 0 10.0 0a5.00 5.00 0 1 0 -10.0 0zM1476.0 1078.4a5.00 5.00 0 1 0 10.0 0a5.00 5.00 0 1 0 -10.0 0zM1487.6 1084.7a5.00 5.00 0 1 0 10.0 0a5.00 5.00 0 1 0 -10.0 0zM1499.2 889.7a5.00 5.00 0 1 0 10.0 0a5.00 5.00 0 1 0 -10.0 0zM1510.8 965.1a5.00 5.00 0 1 0 10.0 0a5.00 5.00 0 1 0 -10.0 0zM1522.4 1109.0a5.00 5.00 0 1 0 10.0 0a5.00 5.00 0 1 0 -10.0 0zM1533.9 1013.1a5.00 5.00 0 1 0 10.0 0a5.00 5.00 0 1 0 -10.0 0zM1545.5 903.4a5.00 5.00 0 1 0 10.0 0a5.00 5.00 0 1 0 -10.0 0zM1557.1 820.5a5.00 5.00 0 1 0 10.0 0a5.00 5.00 0 1 0 -10.0 0zM1568.7 778.2a5.00 5.00 0 1 0 10.0 0a5.00 5.00 0 1 0 -10.0 0zM1580.3 696.7a5.00 5.00 0 1 0 10.0 0a5.00 5.00 0 1 0 -10.0 0zM1591.9 680.2a5.00 5.00 0 1 0 10.0 0a5.00 5.00 0 1 0 -10.0 0zM1603.5 872.5a5.00 5.00 0 1 0 10.0 0a5.00 5.00 0 1 0 -10.0 0zM1615.0 903.2a5.00 5.00 0 1 0 10.0 0a5.00 5.00 0 1 0 -10.0 0z" fill="#fff" stroke="#f00" stroke-width="1.2"/>
<path d="M1006.0 684.6 1009.9 687.5 1013.0 690.1 1015.7 692.9 1018.4 696.1 1020.7 699.4 1022.6 702.7 1024.5 706.5 1026.5 711.1 1028.4 716.5 1029.9 721.7 1033.0 734.4 1036.1 750.4 1039.6 771.9 1043.1 796.7 1046.5 824.5 1049.6 852.4 1052.3 880.2 1055.0 912.1 1057.7 948.2 1064.7 1053.5 1067.0 1085.7 1068.9 1107.3 1069.7 1112.8 1070.1 1114.2 1070.5 1114.5 1070.9 1113.7 1071.3 1112.1 1072.0 1107.2 1074.4 1087.4 1080.5 1017.8 1084.0 983.7 1087.1 959.7 1088.6 950.2 1090.6 940.2 1093.3 928.8 1096.4 918.2 1100.6 906.3 1104.9 896.1 1109.5 886.6 1114.5 878.0 1116.8 874.8 1118.8 872.4 1121.1 870.1 1123.0 868.5 1125.3 867.2 1128.0 866.3 1130.7 865.9 1133.4 866.0 1136.5 866.4 1140.0 867.4 1143.9 868.9 1147.7 870.8 1150.4 872.4 1153.1 874.3 1155.5 876.3 1157.8 878.7 1162.4 884.5 1168.2 893.3 1174.8 904.2 1181.3 916.1 1195.6 944.1 1201.0 955.4 1206.8 969.1 1219.2 1001.9 1236.9 1047.1 1240.4 1054.9 1243.5 1061.0 1246.6 1066.3 1249.3 1070.1 1252.0 1073.2 1254.3 1074.9 1256.6 1075.8 1257.8 1075.8 1259.0 1075.6 1260.5 1074.9 1262.4 1073.2 1269.4 1065.0 1270.9 1063.5 1272.5 1062.3 1276.7 1125.1 1280.2 1058.9 1281.7 1057.4 1282.9 1055.9 1285.2 1051.7 1287.5 1046.1 1293.3 1030.8 1296.0 1024.5 1299.1 1018.6 1302.6 1013.0 1314.6 995.2 1317.3 991.6 1320.0 988.4 1324.6 983.9 1341.2 969.6 1347.0 965.5 1353.2 962.2 1356.7 960.7 1359.7 959.7 1362.8 958.9 1365.9 958.5 1369.0 958.4 1372.1 958.7 1375.2 959.3 1378.7 960.3 1381.4 961.4 1384.1 962.7 1386.8 964.4 1389.5 966.3 1394.1 970.4 1403.0 979.4 1407.2 984.8 1411.9 991.9 1415.0 997.6 1418.1 1004.2 1422.3 1014.6 1424.2 1020.0 1429.3 1039.9 1431.2 1046.6 1432.7 1050.2 1433.5 1051.2 1434.3 1051.5 1434.7 1050.7 1435.4 1044.5 1436.6 1026.1 1440.5 932.1 1441.6 909.1 1444.7 866.3 1445.5 859.8 1445.9 858.0 1446.3 857.3 1446.6 858.1 1447.0 860.4 1448.2 874.4 1451.7 942.9 1455.5 1009.0 1457.1 1028.5 1459.0 1044.4 1461.3 1059.6 1469.0 1099.6 1472.1 1121.7 1472.9 1124.9 1473.3 1125.3 1473.7 1125.1 1474.4 1123.8 1475.2 1121.3 1476.0 1117.8 1477.1 1110.7 1479.9 1088.3 1481.0 1077.3 1481.8 1067.7 1483.7 1029.4 1487.6 929.2 1493.0 806.9 1494.1 785.4 1494.9 774.8 1495.7 767.8 1496.1 766.0 1496.5 765.3 1496.8 766.6 1497.6 776.1 1498.8 804.4 1502.6 949.9 1503.8 986.1 1507.7 1073.1 1508.8 1090.1 1509.6 1095.8 1510.0 1096.6 1510.4 1095.6 1511.1 1087.9 1512.3 1064.8 1513.5 1031.5 1517.3 901.4 1518.5 873.1 1519.2 860.9 1519.6 857.3 1523.1 835.5 1524.6 827.6 1526.2 821.1 1527.7 816.2 1528.9 813.5 1529.7 812.3 1530.4 811.6 1531.2 811.3 1531.6 811.6 1532.0 812.5 1532.8 815.8 1534.3 827.5 1538.9 879.5 1540.5 893.8 1541.3 898.9 1542.0 902.2 1542.4 903.1 1542.8 903.4 1543.2 902.2 1544.0 893.9 1544.7 879.0 1548.2 781.8 1549.0 764.7 1549.8 753.4 1551.7 734.8 1553.6 718.8 1555.5 705.3 1557.5 694.6 1559.0 688.0 1560.6 683.4 1562.1 680.1 1563.7 677.5 1564.8 676.1 1565.6 675.7 1566.0 675.6 1566.4 677.0 1566.7 680.9 1567.5 694.2 1569.4 736.3 1572.9 782.0 1576.4 821.2 1577.9 835.4 1579.5 847.1 1581.4 857.3 1584.1 866.4 1586.8 872.8 1592.2 882.7 1594.5 887.7 1596.5 892.9 1599.6 903.2 1602.3 913.7 1604.6 924.8 1606.5 936.0 1608.5 949.4 1609.6 962.8 1610.8 983.6 1615.4 1087.4 1616.6 1105.2 1617.3 1112.4 1617.7 1114.3 1618.1 1115.0 1618.5 1114.3 1618.9 1112.3 1619.7 1104.5 1620.4 1092.3 1622.0 1056.3 1623.9 995.4" fill="none" stroke="#00f" stroke-width="2.7" stroke-linejoin="round"/>
<path d="M1006.0 677.8l5.9 10.2h-11.8zM1017.6 688.3l5.9 10.2h-11.8zM1029.2 712.2l5.9 10.2h-11.8zM1040.8 773.1l5.9 10.2h-11.8zM1052.3 873.4l5.9 10.2h-11.8zM1063.9 1035.0l5.9 10.2h-11.8zM1075.5 1068.5l5.9 10.2h-11.8zM1087.1 952.9l5.9 10.2h-11.8zM1098.7 904.7l5.9 10.2h-11.8zM1110.3 878.4l5.9 10.2h-11.8zM1121.9 862.6l5.9 10.2h-11.8zM1133.4 859.1l5.9 10.2h-11.8zM1145.0 862.6l5.9 10.2h-11.8zM1156.6 870.6l5.9 10.2h-11.8zM1168.2 886.4l5.9 10.2h-11.8zM1179.8 906.3l5.9 10.2h-11.8zM1191.4 928.9l5.9 10.2h-11.8zM1203.0 952.9l5.9 10.2h-11.8zM1214.5 982.9l5.9 10.2h-11.8zM1226.1 1012.9l5.9 10.2h-11.8zM1237.7 1042.1l5.9 10.2h-11.8zM1249.3 1063.3l5.9 10.2h-11.8zM1260.9 1067.8l5.9 10.2h-11.8zM1272.5 1055.5l5.9 10.2h-11.8zM1284.1 1047.2l5.9 10.2h-11.8zM1295.6 1018.5l5.9 10.2h-11.8zM1307.2 999.3l5.9 10.2h-11.8zM1318.8 982.9l5.9 10.2h-11.8zM1330.4 972.2l5.9 10.2h-11.8zM1342.0 962.2l5.9 10.2h-11.8zM1353.6 955.2l5.9 10.2h-11.8zM1365.2 951.8l5.9 10.2h-11.8zM1376.7 952.9l5.9 10.2h-11.8zM1388.3 958.6l5.9 10.2h-11.8zM1399.9 969.6l5.9 10.2h-11.8zM1411.5 984.4l5.9 10.2h-11.8zM1423.1 1009.7l5.9 10.2h-11.8zM1434.7 1043.9l5.9 10.2h-11.8zM1446.3 850.5l5.9 10.2h-11.8zM1457.8 1028.5l5.9 10.2h-11.8zM1469.4 1095.1l5.9 10.2h-11.8zM1481.0 1070.4l5.9 10.2h-11.8zM1492.6 808.3l5.9 10.2h-11.8zM1504.2 988.6l5.9 10.2h-11.8zM1515.8 944.5l5.9 10.2h-11.8zM1527.4 810.4l5.9 10.2h-11.8zM1538.9 872.7l5.9 10.2h-11.8zM1550.5 738.8l5.9 10.2h-11.8zM1562.1 673.3l5.9 10.2h-11.8zM1573.7 784.6l5.9 10.2h-11.8zM1585.3 862.5l5.9 10.2h-11.8zM1596.9 887.3l5.9 10.2h-11.8zM1608.5 942.5l5.9 10.2h-11.8zM1620.0 1092.1l5.9 10.2h-11.8z" fill="#fff" stroke="#00f" stroke-width="1.2"/>
<path d="M1006.0 681.7 1009.9 683.9 1013.3 686.3 1016.0 688.6 1018.7 691.3 1021.4 694.6 1023.8 698.1 1026.1 702.2 1028.0 706.1 1030.3 711.6 1032.3 717.0 1034.2 723.2 1036.1 730.2 1039.6 745.6 1042.7 762.8 1045.4 781.1 1047.7 799.3 1050.4 823.8 1052.7 847.7 1055.0 874.5 1057.7 909.2 1065.5 1020.7 1068.6 1062.0 1070.1 1079.6 1071.3 1090.1 1072.4 1096.7 1072.8 1097.7 1073.2 1098.1 1073.6 1097.8 1074.4 1095.3 1075.1 1090.5 1075.9 1084.0 1083.2 1005.2 1085.6 983.8 1087.9 965.2 1090.6 947.1 1093.3 931.7 1096.8 914.8 1100.2 900.4 1104.1 886.8 1108.3 874.7 1110.3 870.1 1112.6 865.3 1114.5 861.8 1116.8 858.2 1119.2 855.2 1121.9 852.3 1124.6 849.8 1127.6 847.6 1130.4 846.2 1133.1 845.2 1136.1 844.6 1139.2 844.5 1144.3 845.0 1149.7 846.2 1153.9 848.0 1157.4 850.4 1161.6 854.4 1168.6 862.0 1177.1 870.9 1180.9 875.5 1184.8 881.0 1189.4 888.2 1197.2 901.1 1202.6 910.5 1207.2 919.2 1214.9 934.6 1231.5 970.1 1242.3 992.3 1252.8 1012.9 1255.5 1017.6 1257.8 1020.8 1259.7 1022.7 1261.7 1023.7 1263.6 1023.7 1267.8 1023.0 1269.8 1023.2 1270.9 1023.8 1271.7 1024.4 1273.2 1026.4 1276.3 1011.5 1279.0 1059.8 1281.4 1046.1 1282.9 1049.2 1283.7 1050.3 1284.4 1051.0 1285.6 1051.3 1286.4 1051.1 1287.1 1050.5 1288.3 1049.2 1289.8 1046.8 1294.9 1036.7 1297.2 1032.7 1299.9 1029.1 1303.0 1026.0 1307.2 1022.8 1315.7 1018.2 1319.6 1015.6 1323.1 1012.8 1334.6 1002.6 1340.8 997.8 1346.6 993.7 1350.1 991.5 1353.6 989.7 1357.0 988.5 1360.1 987.8 1363.2 987.6 1366.3 987.8 1369.4 988.5 1372.5 989.7 1375.6 991.4 1378.3 993.3 1381.4 995.9 1384.1 998.7 1387.9 1003.4 1391.8 1009.0 1395.7 1015.5 1399.9 1023.4 1401.5 1032.1 1402.2 1035.1 1403.4 1038.1 1404.2 1039.3 1405.3 1040.3 1406.9 1040.6 1407.6 1040.4 1408.4 1038.6 1409.6 1032.9 1410.3 1027.0 1411.5 1015.4 1411.9 1004.9 1413.4 915.3 1413.8 903.4 1415.4 881.6 1416.5 869.6 1417.3 863.7 1418.1 859.7 1418.8 857.6 1419.2 857.3 1419.6 857.8 1420.4 861.5 1421.5 872.6 1425.4 930.4 1426.9 949.4 1430.4 979.8 1434.3 1007.8 1438.1 1031.9 1441.6 1051.1 1444.3 1064.2 1450.1 1089.4 1452.4 1098.5 1454.4 1104.3 1455.9 1107.0 1456.7 1107.6 1457.5 1107.5 1458.2 1106.2 1459.4 1102.1 1460.5 1095.8 1461.7 1087.6 1464.0 1067.1 1468.7 1020.4 1470.6 996.6 1474.8 933.6 1476.8 907.8 1481.0 862.3 1485.3 821.9 1499.5 701.6 1501.1 691.4 1502.3 685.5 1503.0 682.5 1503.8 680.5 1504.6 679.4 1505.0 679.3 1505.3 682.0 1505.7 689.6 1506.5 716.8 1509.6 886.5 1512.7 1020.7 1514.2 1070.8 1515.0 1082.8 1516.9 1097.2 1518.5 1106.3 1520.0 1113.1 1521.2 1116.7 1522.3 1118.9 1523.1 1119.5 1523.5 1119.6 1523.9 1118.7 1524.6 1111.6 1525.8 1090.5 1529.7 982.7 1530.8 956.1 1536.6 863.0 1538.6 837.8 1540.1 822.7 1541.3 815.2 1542.0 812.3 1542.4 811.6 1542.8 811.3 1543.2 812.0 1543.6 813.9 1544.3 820.9 1545.1 831.2 1548.2 883.5 1549.4 897.8 1550.1 902.7 1550.5 903.4 1550.9 903.2 1551.3 902.6 1552.1 900.4 1552.8 897.0 1554.0 889.8 1555.9 873.6 1563.7 795.9 1568.3 738.9 1569.8 722.1 1571.4 709.2 1572.2 704.7 1572.9 701.9 1573.3 701.2 1573.7 700.9 1574.1 702.7 1574.5 707.6 1575.2 725.9 1576.4 768.7 1581.8 1002.7 1582.6 1027.2 1583.0 1034.3 1583.4 1036.8 1583.7 1033.8 1584.5 1013.2 1586.8 913.8 1588.4 879.8 1590.3 846.0 1592.6 812.8 1595.7 777.1 1601.9 714.2 1603.8 697.6 1605.4 687.2 1606.9 680.4 1607.7 678.5 1608.1 678.1 1608.5 677.9 1608.8 678.2 1609.2 679.1 1610.4 684.8 1611.9 697.9 1615.8 738.8 1623.9 811.3" fill="none" stroke="#f0f" stroke-width="2.7" stroke-linejoin="round"/>
<path d="M1006.0 674.2l7.5 7.5l-7.5 7.5l-7.5 -7.5zM1017.6 682.6l7.5 7.5l-7.5 7.5l-7.5 -7.5zM1029.2 701.3l7.5 7.5l-7.5 7.5l-7.5 -7.5zM1040.8 744.1l7.5 7.5l-7.5 7.5l-7.5 -7.5zM1052.3 836.1l7.5 7.5l-7.5 7.5l-7.5 -7.5zM1063.9 990.9l7.5 7.5l-7.5 7.5l-7.5 -7.5zM1075.5 1080.0l7.5 7.5l-7.5 7.5l-7.5 -7.5zM1087.1 963.6l7.5 7.5l-7.5 7.5l-7.5 -7.5zM1098.7 899.1l7.5 7.5l-7.5 7.5l-7.5 -7.5zM1110.3 862.6l7.5 7.5l-7.5 7.5l-7.5 -7.5zM1121.9 844.8l7.5 7.5l-7.5 7.5l-7.5 -7.5zM1133.4 837.7l7.5 7.5l-7.5 7.5l-7.5 -7.5zM1145.0 837.7l7.5 7.5l-7.5 7.5l-7.5 -7.5zM1156.6 842.3l7.5 7.5l-7.5 7.5l-7.5 -7.5zM1168.2 854.1l7.5 7.5l-7.5 7.5l-7.5 -7.5zM1179.8 866.6l7.5 7.5l-7.5 7.5l-7.5 -7.5zM1191.4 883.9l7.5 7.5l-7.5 7.5l-7.5 -7.5zM1203.0 903.8l7.5 7.5l-7.5 7.5l-7.5 -7.5zM1214.5 926.3l7.5 7.5l-7.5 7.5l-7.5 -7.5zM1226.1 951.1l7.5 7.5l-7.5 7.5l-7.5 -7.5zM1237.7 975.4l7.5 7.5l-7.5 7.5l-7.5 -7.5zM1249.3 998.7l7.5 7.5l-7.5 7.5l-7.5 -7.5zM1260.9 1015.9l7.5 7.5l-7.5 7.5l-7.5 -7.5zM1272.5 1017.8l7.5 7.5l-7.5 7.5l-7.5 -7.5zM1284.1 1043.2l7.5 7.5l-7.5 7.5l-7.5 -7.5zM1295.6 1027.8l7.5 7.5l-7.5 7.5l-7.5 -7.5zM1307.2 1015.4l7.5 7.5l-7.5 7.5l-7.5 -7.5zM1318.8 1008.7l7.5 7.5l-7.5 7.5l-7.5 -7.5zM1330.4 998.7l7.5 7.5l-7.5 7.5l-7.5 -7.5zM1342.0 989.5l7.5 7.5l-7.5 7.5l-7.5 -7.5zM1353.6 982.3l7.5 7.5l-7.5 7.5l-7.5 -7.5zM1365.2 980.2l7.5 7.5l-7.5 7.5l-7.5 -7.5zM1376.7 984.7l7.5 7.5l-7.5 7.5l-7.5 -7.5zM1388.3 996.5l7.5 7.5l-7.5 7.5l-7.5 -7.5zM1399.9 1015.9l7.5 7.5l-7.5 7.5l-7.5 -7.5zM1411.5 1007.9l7.5 7.5l-7.5 7.5l-7.5 -7.5zM1423.1 886.7l7.5 7.5l-7.5 7.5l-7.5 -7.5zM1434.7 1002.8l7.5 7.5l-7.5 7.5l-7.5 -7.5zM1446.3 1064.9l7.5 7.5l-7.5 7.5l-7.5 -7.5zM1457.8 1099.5l7.5 7.5l-7.5 7.5l-7.5 -7.5zM1469.4 1004.2l7.5 7.5l-7.5 7.5l-7.5 -7.5zM1481.0 854.8l7.5 7.5l-7.5 7.5l-7.5 -7.5zM1492.6 753.5l7.5 7.5l-7.5 7.5l-7.5 -7.5zM1504.2 672.3l7.5 7.5l-7.5 7.5l-7.5 -7.5zM1515.8 1081.5l7.5 7.5l-7.5 7.5l-7.5 -7.5zM1527.4 1042.2l7.5 7.5l-7.5 7.5l-7.5 -7.5zM1538.9 826.1l7.5 7.5l-7.5 7.5l-7.5 -7.5zM1550.5 895.9l7.5 7.5l-7.5 7.5l-7.5 -7.5zM1562.1 803.9l7.5 7.5l-7.5 7.5l-7.5 -7.5zM1573.7 693.4l7.5 7.5l-7.5 7.5l-7.5 -7.5zM1585.3 973.0l7.5 7.5l-7.5 7.5l-7.5 -7.5zM1596.9 757.8l7.5 7.5l-7.5 7.5l-7.5 -7.5zM1608.5 670.4l7.5 7.5l-7.5 7.5l-7.5 -7.5zM1620.0 768.8l7.5 7.5l-7.5 7.5l-7.5 -7.5z" fill="#fff" stroke="#f0f" stroke-width="1.2"/>
<path d="M1006.0 1019.3 1012.2 995.7 1016.8 975.6 1021.1 953.8 1025.7 925.9 1029.6 899.4 1033.8 867.0 1048.1 747.3 1050.8 727.5 1053.1 712.9 1056.2 697.2 1057.7 691.0 1059.7 684.6 1061.2 680.5 1063.2 676.7 1065.1 674.3 1066.6 673.3 1068.2 673.3 1069.3 673.9 1070.5 675.0 1072.0 677.1 1074.7 681.9 1085.2 702.4 1089.8 710.8 1096.0 720.6 1099.1 724.9 1101.8 728.3 1104.5 731.3 1107.2 733.9 1109.9 736.1 1112.6 737.8 1115.3 739.2 1118.0 740.1 1120.7 740.8 1123.8 741.1 1126.5 741.0 1129.2 740.7 1131.9 740.1 1134.6 739.1 1140.4 736.3 1150.0 730.5 1154.3 727.5 1158.2 724.5 1169.0 714.5 1180.2 704.7 1191.8 694.1 1196.4 690.2 1201.0 686.6 1208.0 682.1 1216.1 677.8 1222.7 675.1 1225.4 674.4 1228.1 673.9 1233.5 673.5 1244.3 673.3 1247.0 673.6 1249.7 674.4 1253.2 675.9 1262.0 681.0 1272.1 685.1 1277.1 687.6 1289.1 694.8 1301.8 703.1 1306.8 705.8 1309.9 706.9 1316.9 708.6 1319.6 709.5 1323.1 710.9 1333.5 715.8 1338.1 717.6 1343.1 719.2 1351.6 721.6 1360.5 723.8 1365.5 724.7 1370.6 725.1 1381.8 725.3 1389.9 724.7 1403.8 722.3 1412.7 719.8 1435.1 709.9 1467.1 691.9 1475.2 688.0 1479.1 686.6 1481.8 686.1 1487.2 685.4 1491.1 685.3 1493.4 685.4 1495.3 685.8 1497.2 686.6 1499.2 687.9 1500.7 689.3 1502.6 691.6 1504.2 694.0 1504.6 707.4 1505.3 789.8 1507.7 1105.0 1508.0 1124.2 1508.4 1111.1 1508.8 1077.4 1510.4 903.3 1511.9 811.3 1513.8 718.6 1515.0 686.8 1515.4 681.7 1515.8 679.7 1518.5 677.9 1521.2 676.6 1524.3 675.8 1527.4 675.6 1531.6 676.0 1536.2 677.0 1539.3 678.1 1540.5 678.8 1541.6 679.8 1543.6 681.9 1548.6 688.5 1555.2 695.9 1558.6 700.1 1562.5 705.4 1566.0 710.8 1570.6 719.1 1576.8 732.1 1579.1 738.0 1581.0 744.4 1583.0 752.9 1583.7 758.1 1584.9 770.6 1586.1 787.3 1591.5 887.8 1594.9 973.1 1596.1 991.4 1596.5 994.3 1596.9 995.4 1597.3 994.1 1597.6 990.6 1598.4 977.7 1599.6 947.9 1601.9 876.7 1606.5 759.2 1608.1 725.9 1608.8 713.8 1609.6 706.0 1610.0 703.9 1610.4 703.2 1611.2 703.4 1611.9 704.0 1613.5 706.2 1614.6 708.7 1616.2 713.0 1619.3 723.9 1620.0 727.9 1621.2 736.8 1623.9 765.3" fill="none" stroke="#000" stroke-width="2.7" stroke-linejoin="round"/>
<path d="M1001.0 1014.3h10.0v10.0h-10.0zM1012.6 966.9h10.0v10.0h-10.0zM1024.2 897.2h10.0v10.0h-10.0zM1035.8 804.0h10.0v10.0h-10.0zM1047.3 712.5h10.0v10.0h-10.0zM1058.9 670.6h10.0v10.0h-10.0zM1070.5 678.4h10.0v10.0h-10.0zM1082.1 701.0h10.0v10.0h-10.0zM1093.7 719.4h10.0v10.0h-10.0zM1105.3 731.3h10.0v10.0h-10.0zM1116.9 735.9h10.0v10.0h-10.0zM1128.4 734.6h10.0v10.0h-10.0zM1140.0 728.6h10.0v10.0h-10.0zM1151.6 720.8h10.0v10.0h-10.0zM1163.2 710.2h10.0v10.0h-10.0zM1174.8 700.0h10.0v10.0h-10.0zM1186.4 689.5h10.0v10.0h-10.0zM1198.0 680.3h10.0v10.0h-10.0zM1209.5 673.5h10.0v10.0h-10.0zM1221.1 669.2h10.0v10.0h-10.0zM1232.7 668.3h10.0v10.0h-10.0zM1244.3 669.2h10.0v10.0h-10.0zM1255.9 675.4h10.0v10.0h-10.0zM1267.5 680.3h10.0v10.0h-10.0zM1279.1 686.7h10.0v10.0h-10.0zM1290.6 694.1h10.0v10.0h-10.0zM1302.2 701.0h10.0v10.0h-10.0zM1313.8 704.2h10.0v10.0h-10.0zM1325.4 709.5h10.0v10.0h-10.0zM1337.0 713.8h10.0v10.0h-10.0zM1348.6 717.1h10.0v10.0h-10.0zM1360.2 719.6h10.0v10.0h-10.0zM1371.7 720.3h10.0v10.0h-10.0zM1383.3 719.9h10.0v10.0h-10.0zM1394.9 718.0h10.0v10.0h-10.0zM1406.5 715.2h10.0v10.0h-10.0zM1418.1 710.2h10.0v10.0h-10.0zM1429.7 705.1h10.0v10.0h-10.0zM1441.3 698.7h10.0v10.0h-10.0zM1452.8 692.2h10.0v10.0h-10.0zM1464.4 685.8h10.0v10.0h-10.0zM1476.0 681.2h10.0v10.0h-10.0zM1487.6 680.3h10.0v10.0h-10.0zM1499.2 689.0h10.0v10.0h-10.0zM1510.8 674.7h10.0v10.0h-10.0zM1522.4 670.6h10.0v10.0h-10.0zM1533.9 672.9h10.0v10.0h-10.0zM1545.5 685.7h10.0v10.0h-10.0zM1557.1 699.9h10.0v10.0h-10.0zM1568.7 720.6h10.0v10.0h-10.0zM1580.3 770.7h10.0v10.0h-10.0zM1591.9 990.4h10.0v10.0h-10.0zM1603.5 714.4h10.0v10.0h-10.0zM1615.0 722.9h10.0v10.0h-10.0z" fill="#000" stroke="#000" stroke-width="1.2"/>
<path d="M1006.0 1027.4 1013.7 993.9 1019.1 968.6 1023.4 946.3 1026.9 925.3 1029.6 906.5 1032.6 882.2 1042.7 794.5 1046.2 765.6 1049.3 742.5 1052.3 722.5 1055.8 704.8 1057.4 698.4 1059.3 691.5 1061.2 685.7 1063.5 680.1 1065.5 676.4 1066.6 674.7 1067.4 674.0 1068.6 673.5 1069.3 673.7 1070.1 674.4 1070.9 675.4 1072.8 679.5 1077.4 691.4 1081.3 699.4 1095.2 724.0 1098.7 729.4 1101.8 733.4 1104.5 736.3 1107.6 739.0 1111.0 741.4 1114.9 743.7 1118.8 745.4 1123.0 746.8 1126.9 747.6 1130.7 748.0 1133.4 747.8 1135.8 747.5 1138.5 746.7 1141.2 745.7 1147.3 742.6 1153.9 738.3 1160.1 733.6 1166.3 728.1 1186.0 708.1 1197.5 696.7 1203.3 691.6 1209.9 686.8 1221.5 679.7 1226.5 677.3 1231.9 675.7 1240.0 674.3 1243.9 674.2 1246.6 674.5 1255.1 676.4 1260.5 677.8 1264.0 679.1 1268.2 681.1 1283.7 689.7 1296.0 695.1 1309.2 702.3 1337.3 714.4 1344.3 716.8 1352.0 718.6 1361.3 719.9 1369.8 720.4 1374.8 720.3 1380.2 720.0 1385.2 719.4 1389.9 718.5 1404.2 715.0 1409.2 713.3 1413.8 711.4 1424.6 705.0 1435.1 698.4 1442.0 694.4 1445.1 692.2 1446.6 690.9 1447.8 689.4 1453.2 680.0 1454.7 678.3 1455.9 677.9 1456.3 678.1 1456.7 678.6 1457.5 680.6 1458.2 683.8 1459.4 690.1 1464.0 722.0 1467.5 754.1 1468.3 758.6 1468.7 759.8 1469.0 760.3 1469.4 759.5 1470.2 754.5 1472.5 726.7 1473.3 719.3 1476.0 698.8 1477.1 691.5 1477.9 687.8 1478.7 685.4 1479.1 684.8 1481.0 682.8 1483.3 680.9 1485.3 679.7 1487.6 678.6 1489.5 678.1 1491.8 677.9 1492.2 680.0 1493.0 695.6 1494.1 740.8 1497.6 922.8 1499.9 1067.7 1500.7 1101.8 1501.1 1111.5 1501.5 1115.0 1501.9 1111.7 1502.6 1088.5 1505.3 935.2 1506.1 903.3 1510.0 793.1 1511.5 756.6 1512.7 733.8 1514.2 711.2 1515.0 703.7 1515.8 699.1 1518.9 688.1 1520.4 683.7 1521.9 680.0 1523.5 677.2 1524.6 675.7 1526.2 674.5 1527.4 674.2 1528.5 674.5 1530.1 675.7 1531.6 677.7 1533.5 681.0 1542.8 699.5 1545.5 705.8 1548.2 713.1 1552.8 728.1 1555.9 740.7 1558.6 755.3 1561.0 771.8 1561.7 779.4 1562.9 795.8 1564.8 833.1 1570.6 967.7 1574.5 1076.2 1575.6 1097.6 1576.4 1104.8 1576.8 1105.8 1577.2 1101.8 1577.9 1074.2 1579.9 955.8 1580.6 918.3 1581.0 907.3 1581.4 903.4 1581.8 905.1 1582.6 917.5 1583.4 938.3 1585.7 1012.0 1588.0 1100.5 1588.8 1117.2 1589.1 1119.6 1589.9 1119.4 1590.7 1118.8 1591.5 1117.8 1592.6 1115.7 1594.2 1111.7 1596.1 1105.0 1597.3 1099.5 1598.4 1083.6 1600.3 1035.6 1603.4 936.8 1605.4 881.1 1609.6 738.5 1611.2 705.0 1611.9 697.3 1612.3 696.3 1612.7 697.6 1613.5 707.6 1614.6 736.5 1617.7 845.3 1623.9 1041.4" fill="none" stroke="#f00" stroke-width="2.7" stroke-linejoin="round"/>
<path d="M1001.0 1027.4a5.00 5.00 0 1 0 10.0 0a5.00 5.00 0 1 0 -10.0 0zM1012.6 976.0a5.00 5.00 0 1 0 10.0 0a5.00 5.00 0 1 0 -10.0 0zM1024.2 909.3a5.00 5.00 0 1 0 10.0 0a5.00 5.00 0 1 0 -10.0 0zM1035.8 811.3a5.00 5.00 0 1 0 10.0 0a5.00 5.00 0 1 0 -10.0 0zM1047.3 722.5a5.00 5.00 0 1 0 10.0 0a5.00 5.00 0 1 0 -10.0 0zM1058.9 679.3a5.00 5.00 0 1 0 10.0 0a5.00 5.00 0 1 0 -10.0 0zM1070.5 686.6a5.00 5.00 0 1 0 10.0 0a5.00 5.00 0 1 0 -10.0 0zM1082.1 709.6a5.00 5.00 0 1 0 10.0 0a5.00 5.00 0 1 0 -10.0 0zM1093.7 729.4a5.00 5.00 0 1 0 10.0 0a5.00 5.00 0 1 0 -10.0 0zM1105.3 740.9a5.00 5.00 0 1 0 10.0 0a5.00 5.00 0 1 0 -10.0 0zM1116.9 746.5a5.00 5.00 0 1 0 10.0 0a5.00 5.00 0 1 0 -10.0 0zM1128.4 747.8a5.00 5.00 0 1 0 10.0 0a5.00 5.00 0 1 0 -10.0 0zM1140.0 743.9a5.00 5.00 0 1 0 10.0 0a5.00 5.00 0 1 0 -10.0 0zM1151.6 736.3a5.00 5.00 0 1 0 10.0 0a5.00 5.00 0 1 0 -10.0 0zM1163.2 726.2a5.00 5.00 0 1 0 10.0 0a5.00 5.00 0 1 0 -10.0 0zM1174.8 714.2a5.00 5.00 0 1 0 10.0 0a5.00 5.00 0 1 0 -10.0 0zM1186.4 702.7a5.00 5.00 0 1 0 10.0 0a5.00 5.00 0 1 0 -10.0 0zM1198.0 691.9a5.00 5.00 0 1 0 10.0 0a5.00 5.00 0 1 0 -10.0 0zM1209.5 683.9a5.00 5.00 0 1 0 10.0 0a5.00 5.00 0 1 0 -10.0 0zM1221.1 677.4a5.00 5.00 0 1 0 10.0 0a5.00 5.00 0 1 0 -10.0 0zM1232.7 674.7a5.00 5.00 0 1 0 10.0 0a5.00 5.00 0 1 0 -10.0 0zM1244.3 675.1a5.00 5.00 0 1 0 10.0 0a5.00 5.00 0 1 0 -10.0 0zM1255.9 677.9a5.00 5.00 0 1 0 10.0 0a5.00 5.00 0 1 0 -10.0 0zM1267.5 683.4a5.00 5.00 0 1 0 10.0 0a5.00 5.00 0 1 0 -10.0 0zM1279.1 689.9a5.00 5.00 0 1 0 10.0 0a5.00 5.00 0 1 0 -10.0 0zM1290.6 694.9a5.00 5.00 0 1 0 10.0 0a5.00 5.00 0 1 0 -10.0 0zM1302.2 701.4a5.00 5.00 0 1 0 10.0 0a5.00 5.00 0 1 0 -10.0 0zM1313.8 706.4a5.00 5.00 0 1 0 10.0 0a5.00 5.00 0 1 0 -10.0 0zM1325.4 711.5a5.00 5.00 0 1 0 10.0 0a5.00 5.00 0 1 0 -10.0 0zM1337.0 716.1a5.00 5.00 0 1 0 10.0 0a5.00 5.00 0 1 0 -10.0 0zM1348.6 718.8a5.00 5.00 0 1 0 10.0 0a5.00 5.00 0 1 0 -10.0 0zM1360.2 720.2a5.00 5.00 0 1 0 10.0 0a5.00 5.00 0 1 0 -10.0 0zM1371.7 720.2a5.00 5.00 0 1 0 10.0 0a5.00 5.00 0 1 0 -10.0 0zM1383.3 718.8a5.00 5.00 0 1 0 10.0 0a5.00 5.00 0 1 0 -10.0 0zM1394.9 716.1a5.00 5.00 0 1 0 10.0 0a5.00 5.00 0 1 0 -10.0 0zM1406.5 712.4a5.00 5.00 0 1 0 10.0 0a5.00 5.00 0 1 0 -10.0 0zM1418.1 706.0a5.00 5.00 0 1 0 10.0 0a5.00 5.00 0 1 0 -10.0 0zM1429.7 698.6a5.00 5.00 0 1 0 10.0 0a5.00 5.00 0 1 0 -10.0 0zM1441.3 691.2a5.00 5.00 0 1 0 10.0 0a5.00 5.00 0 1 0 -10.0 0zM1452.8 682.1a5.00 5.00 0 1 0 10.0 0a5.00 5.00 0 1 0 -10.0 0zM1464.4 759.5a5.00 5.00 0 1 0 10.0 0a5.00 5.00 0 1 0 -10.0 0zM1476.0 682.8a5.00 5.00 0 1 0 10.0 0a5.00 5.00 0 1 0 -10.0 0zM1487.6 686.1a5.00 5.00 0 1 0 10.0 0a5.00 5.00 0 1 0 -10.0 0zM1499.2 1002.8a5.00 5.00 0 1 0 10.0 0a5.00 5.00 0 1 0 -10.0 0zM1510.8 699.1a5.00 5.00 0 1 0 10.0 0a5.00 5.00 0 1 0 -10.0 0zM1522.4 674.2a5.00 5.00 0 1 0 10.0 0a5.00 5.00 0 1 0 -10.0 0zM1533.9 691.7a5.00 5.00 0 1 0 10.0 0a5.00 5.00 0 1 0 -10.0 0zM1545.5 720.2a5.00 5.00 0 1 0 10.0 0a5.00 5.00 0 1 0 -10.0 0zM1557.1 784.3a5.00 5.00 0 1 0 10.0 0a5.00 5.00 0 1 0 -10.0 0zM1568.7 1056.8a5.00 5.00 0 1 0 10.0 0a5.00 5.00 0 1 0 -10.0 0zM1580.3 1000.0a5.00 5.00 0 1 0 10.0 0a5.00 5.00 0 1 0 -10.0 0zM1591.9 1101.9a5.00 5.00 0 1 0 10.0 0a5.00 5.00 0 1 0 -10.0 0zM1603.5 774.5a5.00 5.00 0 1 0 10.0 0a5.00 5.00 0 1 0 -10.0 0zM1615.0 916.0a5.00 5.00 0 1 0 10.0 0a5.00 5.00 0 1 0 -10.0 0z" fill="#f00" stroke="#f00" stroke-width="1.2"/>
<path d="M1006.0 1032.2 1012.6 1011.3 1017.6 993.3 1021.8 975.3 1025.7 955.4 1028.4 938.7 1031.1 919.4 1045.0 804.5 1050.8 760.5 1056.2 722.1 1059.7 701.0 1062.4 688.1 1063.9 682.5 1065.1 679.3 1066.6 676.3 1068.2 674.5 1068.9 674.0 1070.1 673.7 1072.0 674.0 1073.2 674.7 1074.4 675.6 1076.3 678.2 1077.8 681.2 1079.4 684.9 1087.1 707.3 1091.0 716.7 1093.7 722.0 1096.8 727.3 1100.6 733.2 1104.9 739.2 1108.7 744.1 1112.6 748.6 1116.1 752.2 1119.2 754.8 1121.9 756.6 1124.9 758.0 1128.0 758.8 1131.1 759.1 1134.2 759.0 1137.3 758.6 1140.8 757.8 1144.3 756.8 1148.1 755.5 1151.2 754.2 1154.3 752.5 1157.0 750.8 1160.5 748.1 1164.7 744.3 1190.2 719.0 1202.6 707.7 1212.6 698.1 1217.2 694.0 1224.6 688.6 1232.7 683.6 1238.9 680.6 1245.4 678.5 1252.4 677.2 1255.9 676.9 1259.0 676.9 1262.8 677.3 1271.7 678.7 1279.4 679.3 1282.9 679.9 1285.2 680.6 1287.5 681.7 1295.3 686.0 1299.1 687.9 1316.9 695.5 1321.9 697.4 1341.2 703.4 1348.5 705.4 1358.6 707.2 1362.8 707.7 1367.1 707.9 1375.2 707.5 1379.4 707.0 1383.7 706.2 1390.6 704.3 1399.9 700.9 1411.1 694.2 1423.5 687.8 1431.2 682.4 1433.1 681.5 1435.1 681.1 1435.4 686.0 1435.8 699.6 1436.6 746.6 1438.9 935.6 1440.5 1088.0 1440.8 1111.0 1441.2 1119.6 1441.6 1114.2 1442.0 1099.7 1444.3 949.4 1447.4 811.0 1448.2 786.4 1449.0 769.9 1451.7 733.7 1453.6 713.6 1455.1 701.1 1457.1 690.3 1457.8 687.4 1458.6 685.4 1460.5 682.8 1462.9 680.3 1465.2 678.4 1467.1 677.4 1468.7 677.0 1471.0 677.0 1474.8 677.2 1479.1 677.8 1480.2 678.0 1481.4 678.6 1482.6 679.7 1483.3 680.8 1485.3 684.5 1487.2 690.0 1489.5 699.0 1491.8 711.0 1492.6 723.0 1493.4 747.7 1494.5 801.6 1497.6 970.5 1499.5 1092.2 1499.9 1105.5 1500.3 1110.4 1500.7 1108.4 1501.1 1102.7 1501.9 1082.0 1505.0 944.4 1506.1 903.3 1510.4 793.8 1511.9 760.1 1513.1 739.1 1514.2 722.9 1515.0 715.1 1515.8 710.1 1517.3 703.4 1520.0 693.5 1521.6 689.0 1522.7 686.3 1523.9 684.1 1525.0 682.4 1526.2 681.5 1527.4 681.1 1527.7 681.2 1528.5 682.0 1529.3 683.4 1530.1 685.6 1531.6 691.8 1533.1 700.4 1534.7 711.2 1536.2 723.9 1538.6 746.1 1539.3 755.4 1540.1 772.7 1540.9 797.1 1544.7 952.6 1545.5 975.6 1546.3 991.1 1546.7 995.4 1547.8 1003.3 1549.8 1013.1 1550.9 1017.4 1552.1 1020.9 1556.3 1030.9 1557.9 1035.3 1559.8 1043.1 1561.3 1051.9 1562.1 1058.3 1562.5 1064.0 1564.8 1110.8 1565.6 1120.1 1566.0 1121.4 1566.4 1120.6 1567.1 1113.9 1568.3 1094.0 1573.3 957.6 1579.9 819.2 1581.4 790.6 1583.0 766.6 1584.1 752.5 1585.3 742.3 1588.4 722.3 1590.7 709.4 1593.0 699.1 1594.9 692.9 1596.1 690.5 1596.9 689.5 1597.6 689.0 1598.4 689.0 1599.2 689.3 1600.0 690.0 1601.5 692.5 1603.0 696.4 1604.2 700.4 1605.7 706.9 1607.3 715.0 1608.5 722.1 1608.8 726.9 1609.6 748.6 1610.4 783.1 1613.9 979.9 1616.6 1083.2 1617.3 1102.9 1617.7 1108.4 1618.1 1110.4 1618.5 1108.3 1619.3 1091.8 1620.0 1059.8 1620.8 1013.0 1622.4 878.8 1623.9 696.3" fill="none" stroke="#00f" stroke-width="2.7" stroke-linejoin="round"/>
<path d="M1006.0 1025.4l5.9 10.2h-11.8zM1017.6 986.5l5.9 10.2h-11.8zM1029.2 926.7l5.9 10.2h-11.8zM1040.8 832.1l5.9 10.2h-11.8zM1052.3 742.4l5.9 10.2h-11.8zM1063.9 675.7l5.9 10.2h-11.8zM1075.5 670.2l5.9 10.2h-11.8zM1087.1 700.5l5.9 10.2h-11.8zM1098.7 723.5l5.9 10.2h-11.8zM1110.3 739.2l5.9 10.2h-11.8zM1121.9 749.8l5.9 10.2h-11.8zM1133.4 752.2l5.9 10.2h-11.8zM1145.0 749.8l5.9 10.2h-11.8zM1156.6 744.2l5.9 10.2h-11.8zM1168.2 734.1l5.9 10.2h-11.8zM1179.8 722.6l5.9 10.2h-11.8zM1191.4 711.1l5.9 10.2h-11.8zM1203.0 700.5l5.9 10.2h-11.8zM1214.5 689.5l5.9 10.2h-11.8zM1226.1 680.7l5.9 10.2h-11.8zM1237.7 674.3l5.9 10.2h-11.8zM1249.3 670.9l5.9 10.2h-11.8zM1260.9 670.3l5.9 10.2h-11.8zM1272.5 672.0l5.9 10.2h-11.8zM1284.1 673.4l5.9 10.2h-11.8zM1295.6 679.4l5.9 10.2h-11.8zM1307.2 684.4l5.9 10.2h-11.8zM1318.8 689.5l5.9 10.2h-11.8zM1330.4 693.2l5.9 10.2h-11.8zM1342.0 696.8l5.9 10.2h-11.8zM1353.6 699.6l5.9 10.2h-11.8zM1365.2 701.0l5.9 10.2h-11.8zM1376.7 700.5l5.9 10.2h-11.8zM1388.3 698.2l5.9 10.2h-11.8zM1399.9 694.1l5.9 10.2h-11.8zM1411.5 687.2l5.9 10.2h-11.8zM1423.1 681.2l5.9 10.2h-11.8zM1434.7 674.3l5.9 10.2h-11.8zM1446.3 851.9l5.9 10.2h-11.8zM1457.8 680.6l5.9 10.2h-11.8zM1469.4 670.2l5.9 10.2h-11.8zM1481.0 671.5l5.9 10.2h-11.8zM1492.6 716.2l5.9 10.2h-11.8zM1504.2 972.8l5.9 10.2h-11.8zM1515.8 703.3l5.9 10.2h-11.8zM1527.4 674.3l5.9 10.2h-11.8zM1538.9 743.3l5.9 10.2h-11.8zM1550.5 1009.3l5.9 10.2h-11.8zM1562.1 1051.5l5.9 10.2h-11.8zM1573.7 942.5l5.9 10.2h-11.8zM1585.3 735.5l5.9 10.2h-11.8zM1596.9 682.7l5.9 10.2h-11.8zM1608.5 715.3l5.9 10.2h-11.8zM1620.0 1053.0l5.9 10.2h-11.8z" fill="#00f" stroke="#00f" stroke-width="1.2"/>
<path d="M1006.0 1046.0 1013.0 1025.9 1015.7 1017.2 1018.4 1007.4 1021.1 996.5 1023.4 986.2 1028.4 960.6 1033.8 927.7 1039.2 888.9 1043.8 850.9 1055.0 753.0 1057.7 731.6 1060.5 712.7 1063.5 695.3 1064.7 690.2 1066.2 684.7 1067.8 680.5 1069.3 677.5 1070.9 675.7 1071.7 675.1 1072.8 674.7 1074.4 674.9 1075.9 676.0 1077.4 678.0 1079.4 681.6 1082.5 689.3 1091.0 713.8 1096.8 728.5 1100.6 737.5 1104.1 744.9 1107.2 750.9 1110.3 756.1 1113.4 760.5 1116.4 764.2 1119.5 767.3 1123.0 770.0 1126.5 772.2 1130.0 773.8 1133.4 774.8 1137.3 775.3 1140.4 775.3 1143.5 775.0 1147.3 774.4 1150.4 773.7 1155.1 771.9 1157.4 770.7 1159.7 769.1 1169.0 761.6 1177.9 754.9 1182.1 751.3 1218.0 715.4 1223.8 709.9 1229.2 705.2 1236.6 699.4 1244.3 694.2 1252.4 689.6 1255.1 688.3 1257.8 687.3 1261.7 686.6 1268.6 686.7 1271.7 686.4 1274.8 685.2 1281.7 681.5 1283.7 680.9 1285.6 680.7 1287.1 680.8 1289.1 681.3 1297.2 684.4 1302.2 685.9 1306.5 686.7 1319.6 688.6 1346.2 695.0 1352.4 696.1 1357.4 696.8 1362.5 697.0 1367.5 696.9 1372.5 696.3 1377.5 695.3 1382.5 694.0 1387.6 692.2 1393.0 689.9 1399.9 686.6 1402.6 686.9 1405.3 687.9 1407.6 689.4 1410.0 691.9 1411.1 693.5 1411.5 699.3 1412.3 736.3 1413.8 857.3 1415.4 1058.3 1415.7 1095.9 1416.1 1110.4 1416.5 1105.4 1416.9 1091.7 1418.8 969.5 1422.3 807.7 1423.1 780.8 1423.9 761.9 1424.6 751.8 1426.2 736.4 1428.9 715.5 1430.0 708.8 1431.6 701.5 1432.7 697.2 1434.3 692.9 1435.8 689.8 1438.1 685.8 1440.5 682.6 1442.4 680.6 1444.7 678.9 1446.6 678.3 1452.4 677.3 1457.5 677.0 1458.6 677.2 1460.2 678.0 1462.9 680.4 1465.9 684.2 1469.8 690.2 1472.1 695.1 1474.1 700.7 1476.0 707.9 1477.9 717.2 1480.2 731.6 1481.4 741.2 1482.6 763.9 1483.7 799.4 1488.0 969.1 1491.1 1081.5 1491.8 1102.3 1492.2 1108.3 1492.6 1110.4 1493.0 1108.9 1493.4 1104.8 1494.5 1080.6 1496.8 1015.5 1497.6 1001.0 1498.0 996.8 1498.4 995.4 1498.8 997.0 1499.2 1001.7 1499.9 1018.4 1503.0 1112.9 1503.8 1124.8 1504.2 1126.5 1504.6 1124.6 1505.0 1119.0 1506.1 1084.7 1509.2 936.0 1513.5 745.3 1514.6 706.8 1515.4 693.5 1515.8 691.7 1516.2 693.0 1516.9 702.7 1518.5 743.8 1522.3 888.0 1525.8 1059.2 1526.6 1081.6 1527.0 1087.8 1527.4 1089.9 1527.7 1088.9 1528.5 1081.2 1529.7 1058.2 1533.5 940.2 1534.7 910.9 1541.3 791.9 1544.0 750.2 1546.3 722.9 1547.4 713.2 1548.2 708.4 1549.4 704.1 1549.8 703.4 1550.1 703.2 1550.5 715.4 1550.9 747.9 1552.8 995.4 1554.0 1093.8 1554.4 1104.9 1554.8 1095.2 1555.2 1070.5 1556.3 970.1 1556.7 949.4 1558.6 888.8 1560.2 848.8 1562.1 809.3 1563.7 786.1 1564.8 773.6 1566.0 765.3 1569.8 746.6 1573.7 731.5 1576.8 722.3 1578.3 718.6 1579.9 715.6 1581.4 713.2 1583.0 711.5 1584.5 710.5 1586.1 710.1 1586.4 710.6 1586.8 712.1 1587.6 717.6 1588.4 726.4 1589.5 744.5 1591.1 775.5 1595.7 881.7 1598.4 931.6 1602.7 1018.4 1605.0 1058.0 1606.1 1072.4 1606.9 1079.2 1607.7 1083.6 1608.1 1084.7 1608.5 1085.1 1608.8 1083.4 1609.6 1071.3 1610.8 1035.9 1614.2 892.9 1615.0 871.2 1615.8 859.0 1616.2 857.3 1616.6 857.6 1616.9 858.3 1617.7 861.4 1618.1 863.9 1619.3 875.1 1620.0 886.2 1621.2 909.0 1622.0 928.7 1623.9 995.4" fill="none" stroke="#f0f" stroke-width="2.7" stroke-linejoin="round"/>
<path d="M1006.0 1038.5l7.5 7.5l-7.5 7.5l-7.5 -7.5zM1017.6 1002.8l7.5 7.5l-7.5 7.5l-7.5 -7.5zM1029.2 948.8l7.5 7.5l-7.5 7.5l-7.5 -7.5zM1040.8 869.2l7.5 7.5l-7.5 7.5l-7.5 -7.5zM1052.3 768.6l7.5 7.5l-7.5 7.5l-7.5 -7.5zM1063.9 686.1l7.5 7.5l-7.5 7.5l-7.5 -7.5zM1075.5 668.1l7.5 7.5l-7.5 7.5l-7.5 -7.5zM1087.1 695.4l7.5 7.5l-7.5 7.5l-7.5 -7.5zM1098.7 725.6l7.5 7.5l-7.5 7.5l-7.5 -7.5zM1110.3 748.6l7.5 7.5l-7.5 7.5l-7.5 -7.5zM1121.9 761.7l7.5 7.5l-7.5 7.5l-7.5 -7.5zM1133.4 767.3l7.5 7.5l-7.5 7.5l-7.5 -7.5zM1145.0 767.3l7.5 7.5l-7.5 7.5l-7.5 -7.5zM1156.6 763.6l7.5 7.5l-7.5 7.5l-7.5 -7.5zM1168.2 754.7l7.5 7.5l-7.5 7.5l-7.5 -7.5zM1179.8 745.9l7.5 7.5l-7.5 7.5l-7.5 -7.5zM1191.4 734.6l7.5 7.5l-7.5 7.5l-7.5 -7.5zM1203.0 723.0l7.5 7.5l-7.5 7.5l-7.5 -7.5zM1214.5 711.4l7.5 7.5l-7.5 7.5l-7.5 -7.5zM1226.1 700.3l7.5 7.5l-7.5 7.5l-7.5 -7.5zM1237.7 691.1l7.5 7.5l-7.5 7.5l-7.5 -7.5zM1249.3 683.8l7.5 7.5l-7.5 7.5l-7.5 -7.5zM1260.9 679.2l7.5 7.5l-7.5 7.5l-7.5 -7.5zM1272.5 678.7l7.5 7.5l-7.5 7.5l-7.5 -7.5zM1284.1 673.3l7.5 7.5l-7.5 7.5l-7.5 -7.5zM1295.6 676.4l7.5 7.5l-7.5 7.5l-7.5 -7.5zM1307.2 679.3l7.5 7.5l-7.5 7.5l-7.5 -7.5zM1318.8 681.0l7.5 7.5l-7.5 7.5l-7.5 -7.5zM1330.4 683.8l7.5 7.5l-7.5 7.5l-7.5 -7.5zM1342.0 686.5l7.5 7.5l-7.5 7.5l-7.5 -7.5zM1353.6 688.8l7.5 7.5l-7.5 7.5l-7.5 -7.5zM1365.2 689.5l7.5 7.5l-7.5 7.5l-7.5 -7.5zM1376.7 688.0l7.5 7.5l-7.5 7.5l-7.5 -7.5zM1388.3 684.4l7.5 7.5l-7.5 7.5l-7.5 -7.5zM1399.9 679.2l7.5 7.5l-7.5 7.5l-7.5 -7.5zM1411.5 691.9l7.5 7.5l-7.5 7.5l-7.5 -7.5zM1423.1 773.4l7.5 7.5l-7.5 7.5l-7.5 -7.5zM1434.7 684.6l7.5 7.5l-7.5 7.5l-7.5 -7.5zM1446.3 670.9l7.5 7.5l-7.5 7.5l-7.5 -7.5zM1457.8 669.6l7.5 7.5l-7.5 7.5l-7.5 -7.5zM1469.4 682.1l7.5 7.5l-7.5 7.5l-7.5 -7.5zM1481.0 729.8l7.5 7.5l-7.5 7.5l-7.5 -7.5zM1492.6 1102.9l7.5 7.5l-7.5 7.5l-7.5 -7.5zM1504.2 1119.0l7.5 7.5l-7.5 7.5l-7.5 -7.5zM1515.8 684.2l7.5 7.5l-7.5 7.5l-7.5 -7.5zM1527.4 1082.4l7.5 7.5l-7.5 7.5l-7.5 -7.5zM1538.9 825.4l7.5 7.5l-7.5 7.5l-7.5 -7.5zM1550.5 707.9l7.5 7.5l-7.5 7.5l-7.5 -7.5zM1562.1 801.8l7.5 7.5l-7.5 7.5l-7.5 -7.5zM1573.7 724.0l7.5 7.5l-7.5 7.5l-7.5 -7.5zM1585.3 702.7l7.5 7.5l-7.5 7.5l-7.5 -7.5zM1596.9 895.9l7.5 7.5l-7.5 7.5l-7.5 -7.5zM1608.5 1077.6l7.5 7.5l-7.5 7.5l-7.5 -7.5zM1620.0 878.8l7.5 7.5l-7.5 7.5l-7.5 -7.5z" fill="#f0f" stroke="#f0f" stroke-width="1.2"/>
</g>
<rect x="1039.1" y="792" width="580.7" height="191.6" fill="#fff" stroke="#222" stroke-width="1.1"/>
<path d="M1051.1 824.7H1105.3" stroke="#000" stroke-width="2.2"/>
<rect x="1073.0" y="820.4" width="8.6" height="8.6" fill="#fff" stroke="#000" stroke-width="1.2"/>
<path d="M1051.1 869.1H1105.3" stroke="#00f" stroke-width="2.2"/>
<polygon points="1077.3,862.9 1082.7,872.2 1071.9,872.2" fill="#fff" stroke="#00f" stroke-width="1.2"/>
<path d="M1051.1 915.3H1105.3" stroke="#000" stroke-width="2.2"/>
<rect x="1073.0" y="911.0" width="8.6" height="8.6" fill="#000" stroke="#000" stroke-width="1.2"/>
<path d="M1051.1 960.0H1105.3" stroke="#00f" stroke-width="2.2"/>
<polygon points="1077.3,953.8 1082.7,963.1 1071.9,963.1" fill="#00f" stroke="#00f" stroke-width="1.2"/>
<path d="M1292.5 824.7H1346.4" stroke="#f00" stroke-width="2.2"/>
<circle cx="1319.1" cy="824.7" r="4.3" fill="#fff" stroke="#f00" stroke-width="1.2"/>
<path d="M1292.5 869.1H1346.4" stroke="#f0f" stroke-width="2.2"/>
<polygon points="1319.1,862.3 1325.9,869.1 1319.1,875.9 1312.3,869.1" fill="#fff" stroke="#f0f" stroke-width="1.2"/>
<path d="M1333.6 915.3H1388.2" stroke="#f00" stroke-width="2.2"/>
<circle cx="1360.2" cy="915.3" r="4.3" fill="#f00" stroke="#f00" stroke-width="1.2"/>
<path d="M1333.6 960.0H1388.2" stroke="#f0f" stroke-width="2.2"/>
<polygon points="1360.2,953.2 1367.0,960.0 1360.2,966.8 1353.4,960.0" fill="#f0f" stroke="#f0f" stroke-width="1.2"/>
<g font-family="'Liberation Sans', Arial, sans-serif" font-size="36.7">
<text x="1110.3" y="832.3">col-pol 10°</text>
<text x="1110.3" y="876.7">col-pol 30°</text>
<text x="1110.3" y="922.9">cross-pol 10°</text>
<text x="1110.3" y="967.6">cross-pol 30°</text>
<text x="1352.1" y="832.3">col-pol 20°</text>
<text x="1352.1" y="876.7">col-pol 40°</text>
<text x="1392.9" y="922.9">cross-pol 20°</text>
<text x="1392.9" y="967.6">cross-pol 40°</text>
</g>
<rect x="1006.0" y="673.3" width="617.9" height="460.1" fill="none" stroke="#000" stroke-width="1.6"/>
<path d="M1006.0 1133.4H997.0M1006.0 1041.4H997.0M1006.0 949.4H997.0M1006.0 857.3H997.0M1006.0 765.3H997.0M1006.0 673.3H997.0M1006.0 1087.4H1001.0M1006.0 995.4H1001.0M1006.0 903.4H1001.0M1006.0 811.3H1001.0M1006.0 719.3H1001.0M1006.0 1133.4V1142.4M1160.5 1133.4V1142.4M1315.0 1133.4V1142.4M1469.4 1133.4V1142.4M1623.9 1133.4V1142.4M1083.2 1133.4V1138.4M1237.7 1133.4V1138.4M1392.2 1133.4V1138.4M1546.7 1133.4V1138.4" stroke="#000" stroke-width="1.6" fill="none"/>
<g font-family="'Liberation Sans', Arial, sans-serif" font-size="45" fill="#000">
<text x="992.0" y="1145.9" text-anchor="end">0.0</text>
<text x="992.0" y="1053.9" text-anchor="end">0.2</text>
<text x="992.0" y="961.9" text-anchor="end">0.4</text>
<text x="992.0" y="869.8" text-anchor="end">0.6</text>
<text x="992.0" y="777.8" text-anchor="end">0.8</text>
<text x="992.0" y="685.8" text-anchor="end">1.0</text>
<text x="1006.0" y="1184.1" text-anchor="middle">4</text>
<text x="1160.5" y="1184.1" text-anchor="middle">8</text>
<text x="1315.0" y="1184.1" text-anchor="middle">12</text>
<text x="1469.4" y="1184.1" text-anchor="middle">16</text>
<text x="1623.9" y="1184.1" text-anchor="middle">20</text>
<text x="1315.0" y="1253.7" text-anchor="middle">Frequency(GHz)</text>
<text x="907.9" y="1143.8" transform="rotate(-90 907.9 1143.8)">Reflection magnitude</text>
</g>
<text x="847.0" y="669.7" font-family="'Liberation Serif', 'Times New Roman', serif" font-weight="bold" font-size="46">(d)</text>
</svg></body></html>
